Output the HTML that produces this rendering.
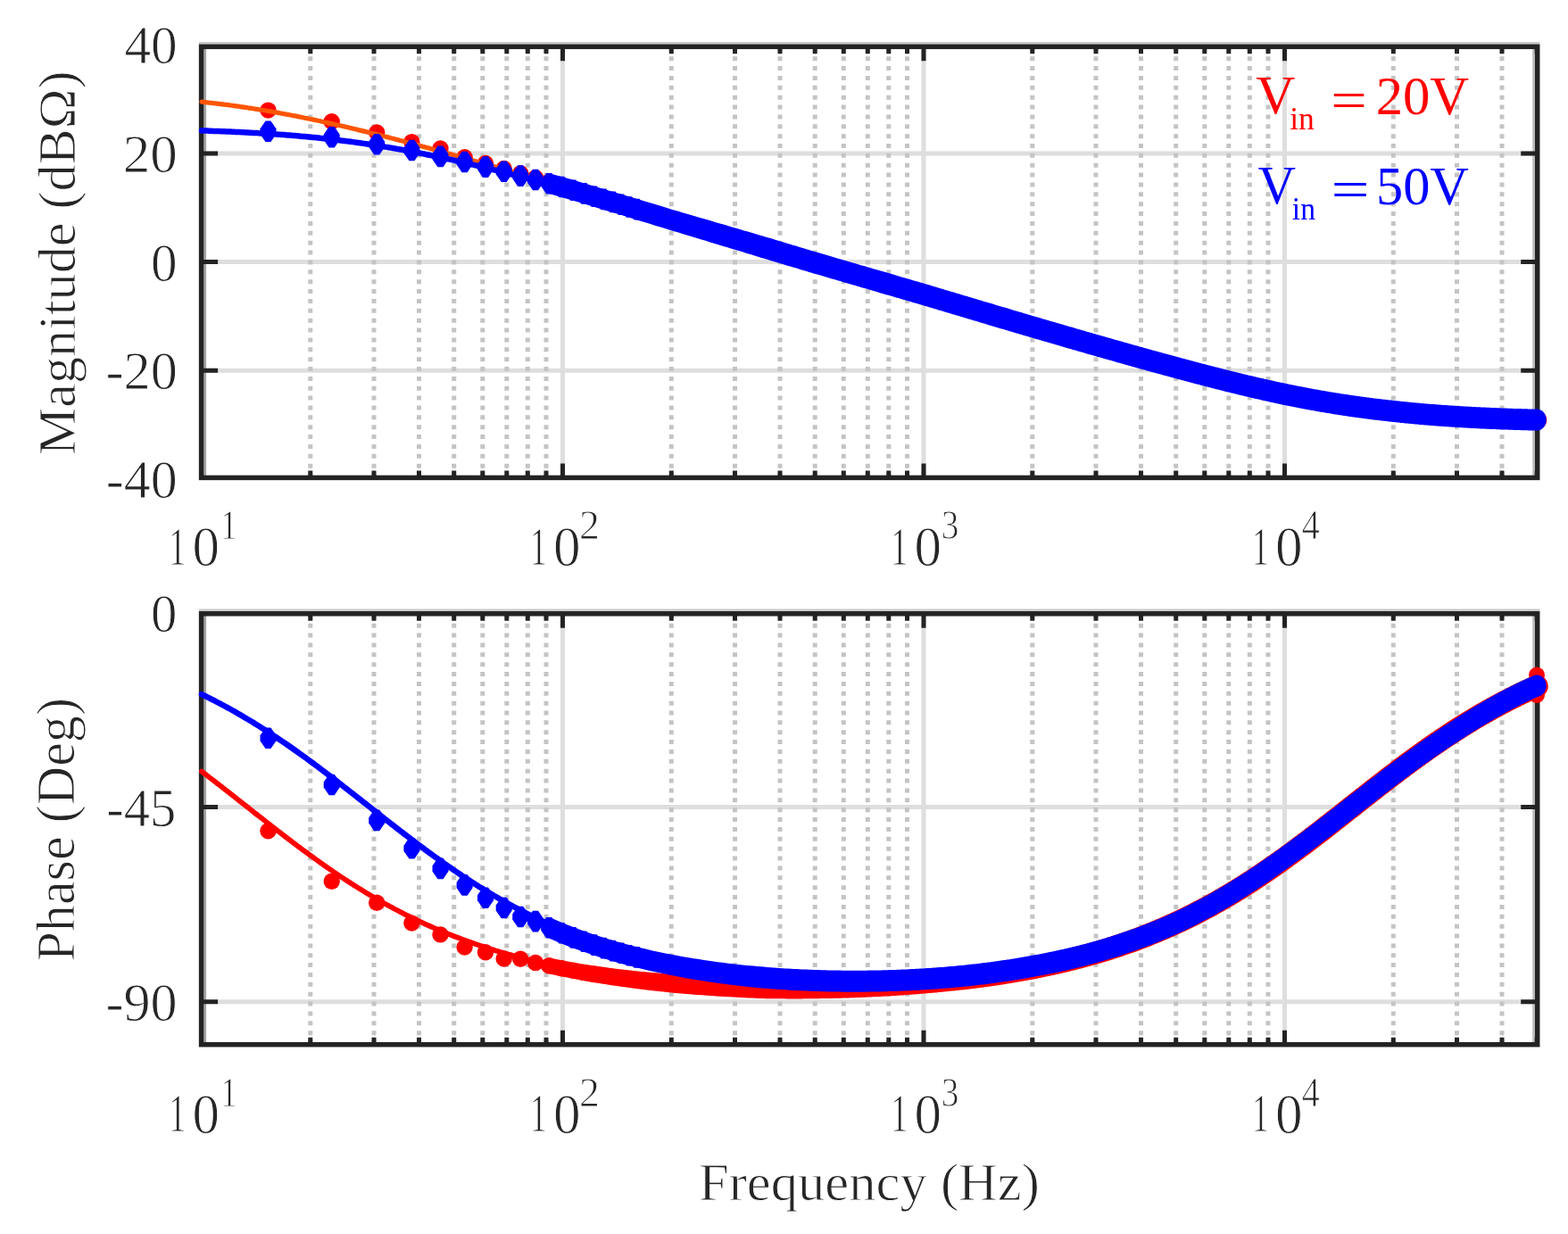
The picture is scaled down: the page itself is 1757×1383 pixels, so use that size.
<!DOCTYPE html><html><head><meta charset="utf-8"><title>Bode plot</title>
<style>html,body{margin:0;padding:0;background:#fff;overflow:hidden;}svg{display:block;}text{font-family:"Liberation Serif","Times New Roman",serif;fill:#262626;stroke:#fff;stroke-width:0.9px;}</style></head><body>
<svg width="1757" height="1383" viewBox="0 0 1757 1383">
<rect width="1757" height="1383" fill="#fff"/>
<line x1="630.5" y1="52.3" x2="630.5" y2="535.4" stroke="#dedede" stroke-width="5"/>
<line x1="1035" y1="52.3" x2="1035" y2="535.4" stroke="#dedede" stroke-width="5"/>
<line x1="1439.5" y1="52.3" x2="1439.5" y2="535.4" stroke="#dedede" stroke-width="5"/>
<line x1="225.6" y1="172" x2="1722.7" y2="172" stroke="#dedede" stroke-width="5"/>
<line x1="225.6" y1="293.6" x2="1722.7" y2="293.6" stroke="#dedede" stroke-width="5"/>
<line x1="225.6" y1="415.2" x2="1722.7" y2="415.2" stroke="#dedede" stroke-width="5"/>
<path d="M347.8 52.3V535.4M419 52.3V535.4M469.5 52.3V535.4M508.7 52.3V535.4M540.8 52.3V535.4M567.8 52.3V535.4M591.3 52.3V535.4M612 52.3V535.4M752.3 52.3V535.4M823.5 52.3V535.4M874 52.3V535.4M913.2 52.3V535.4M945.3 52.3V535.4M972.3 52.3V535.4M995.8 52.3V535.4M1016.5 52.3V535.4M1156.8 52.3V535.4M1228 52.3V535.4M1278.5 52.3V535.4M1317.7 52.3V535.4M1349.8 52.3V535.4M1376.8 52.3V535.4M1400.3 52.3V535.4M1421 52.3V535.4M1561.3 52.3V535.4M1632.5 52.3V535.4M1683 52.3V535.4M1722.2 52.3V535.4" stroke="#c4c4c4" stroke-width="5" stroke-dasharray="5 5.87" fill="none"/>
<rect x="222.8" y="47" width="1502.6" height="2.6" fill="#c9c9c9"/>
<rect x="228.3" y="52.3" width="2.8" height="483.1" fill="#a3a3a3"/>
<rect x="1717.2" y="52.3" width="2.8" height="483.1" fill="#bdbdbd"/>
<path d="M347.8 535.4v-8M347.8 52.3v8M419 535.4v-8M419 52.3v8M469.5 535.4v-8M469.5 52.3v8M508.7 535.4v-8M508.7 52.3v8M540.8 535.4v-8M540.8 52.3v8M567.8 535.4v-8M567.8 52.3v8M591.3 535.4v-8M591.3 52.3v8M612 535.4v-8M612 52.3v8M630.5 535.4v-16M630.5 52.3v16M752.3 535.4v-8M752.3 52.3v8M823.5 535.4v-8M823.5 52.3v8M874 535.4v-8M874 52.3v8M913.2 535.4v-8M913.2 52.3v8M945.3 535.4v-8M945.3 52.3v8M972.3 535.4v-8M972.3 52.3v8M995.8 535.4v-8M995.8 52.3v8M1016.5 535.4v-8M1016.5 52.3v8M1035 535.4v-16M1035 52.3v16M1156.8 535.4v-8M1156.8 52.3v8M1228 535.4v-8M1228 52.3v8M1278.5 535.4v-8M1278.5 52.3v8M1317.7 535.4v-8M1317.7 52.3v8M1349.8 535.4v-8M1349.8 52.3v8M1376.8 535.4v-8M1376.8 52.3v8M1400.3 535.4v-8M1400.3 52.3v8M1421 535.4v-8M1421 52.3v8M1439.5 535.4v-16M1439.5 52.3v16M1561.3 535.4v-8M1561.3 52.3v8M1632.5 535.4v-8M1632.5 52.3v8M1683 535.4v-8M1683 52.3v8M1722.2 535.4v-8M1722.2 52.3v8M225.6 172h18.5M1722.7 172h-18.5M225.6 293.6h18.5M1722.7 293.6h-18.5M225.6 415.2h18.5M1722.7 415.2h-18.5" stroke="#232323" stroke-width="5" fill="none"/>
<rect x="225.6" y="52.3" width="1497.1" height="483.1" fill="none" stroke="#232323" stroke-width="5.5"/>
<line x1="630.5" y1="687.8" x2="630.5" y2="1170.7" stroke="#dedede" stroke-width="5"/>
<line x1="1035" y1="687.8" x2="1035" y2="1170.7" stroke="#dedede" stroke-width="5"/>
<line x1="1439.5" y1="687.8" x2="1439.5" y2="1170.7" stroke="#dedede" stroke-width="5"/>
<line x1="225.6" y1="904.6" x2="1722.7" y2="904.6" stroke="#dedede" stroke-width="5"/>
<line x1="225.6" y1="1122.7" x2="1722.7" y2="1122.7" stroke="#dedede" stroke-width="5"/>
<path d="M347.8 687.8V1170.7M419 687.8V1170.7M469.5 687.8V1170.7M508.7 687.8V1170.7M540.8 687.8V1170.7M567.8 687.8V1170.7M591.3 687.8V1170.7M612 687.8V1170.7M752.3 687.8V1170.7M823.5 687.8V1170.7M874 687.8V1170.7M913.2 687.8V1170.7M945.3 687.8V1170.7M972.3 687.8V1170.7M995.8 687.8V1170.7M1016.5 687.8V1170.7M1156.8 687.8V1170.7M1228 687.8V1170.7M1278.5 687.8V1170.7M1317.7 687.8V1170.7M1349.8 687.8V1170.7M1376.8 687.8V1170.7M1400.3 687.8V1170.7M1421 687.8V1170.7M1561.3 687.8V1170.7M1632.5 687.8V1170.7M1683 687.8V1170.7M1722.2 687.8V1170.7" stroke="#c4c4c4" stroke-width="5" stroke-dasharray="5 5.87" fill="none"/>
<rect x="222.8" y="682.5" width="1502.6" height="2.6" fill="#c9c9c9"/>
<rect x="228.3" y="687.8" width="2.8" height="482.9" fill="#a3a3a3"/>
<rect x="1717.2" y="687.8" width="2.8" height="482.9" fill="#bdbdbd"/>
<path d="M347.8 1170.7v-8M347.8 687.8v8M419 1170.7v-8M419 687.8v8M469.5 1170.7v-8M469.5 687.8v8M508.7 1170.7v-8M508.7 687.8v8M540.8 1170.7v-8M540.8 687.8v8M567.8 1170.7v-8M567.8 687.8v8M591.3 1170.7v-8M591.3 687.8v8M612 1170.7v-8M612 687.8v8M630.5 1170.7v-16M630.5 687.8v16M752.3 1170.7v-8M752.3 687.8v8M823.5 1170.7v-8M823.5 687.8v8M874 1170.7v-8M874 687.8v8M913.2 1170.7v-8M913.2 687.8v8M945.3 1170.7v-8M945.3 687.8v8M972.3 1170.7v-8M972.3 687.8v8M995.8 1170.7v-8M995.8 687.8v8M1016.5 1170.7v-8M1016.5 687.8v8M1035 1170.7v-16M1035 687.8v16M1156.8 1170.7v-8M1156.8 687.8v8M1228 1170.7v-8M1228 687.8v8M1278.5 1170.7v-8M1278.5 687.8v8M1317.7 1170.7v-8M1317.7 687.8v8M1349.8 1170.7v-8M1349.8 687.8v8M1376.8 1170.7v-8M1376.8 687.8v8M1400.3 1170.7v-8M1400.3 687.8v8M1421 1170.7v-8M1421 687.8v8M1439.5 1170.7v-16M1439.5 687.8v16M1561.3 1170.7v-8M1561.3 687.8v8M1632.5 1170.7v-8M1632.5 687.8v8M1683 1170.7v-8M1683 687.8v8M1722.2 1170.7v-8M1722.2 687.8v8M225.6 904.6h18.5M1722.7 904.6h-18.5M225.6 1122.7h18.5M1722.7 1122.7h-18.5" stroke="#232323" stroke-width="5" fill="none"/>
<rect x="225.6" y="687.8" width="1497.1" height="482.9" fill="none" stroke="#232323" stroke-width="5.5"/>
<g fill="#ff0000">
<circle cx="300.5" cy="123.6" r="9.2"/>
<circle cx="371.7" cy="136.3" r="9.2"/>
<circle cx="422.2" cy="148.5" r="9.2"/>
<circle cx="461.4" cy="159.1" r="9.2"/>
<circle cx="493.5" cy="166.4" r="9.2"/>
<circle cx="520.6" cy="176.3" r="9.2"/>
<circle cx="544" cy="183" r="9.2"/>
<circle cx="564.7" cy="189" r="9.2"/>
<circle cx="583.2" cy="194.3" r="9.2"/>
<circle cx="600" cy="199.2" r="9.2"/>
<circle cx="615.2" cy="203.7" r="9.2"/>
<circle cx="629.3" cy="207.9" r="9.2"/>
<circle cx="642.3" cy="211.9" r="9.2"/>
<circle cx="654.4" cy="215.6" r="9.2"/>
<circle cx="665.8" cy="219.1" r="9.2"/>
<circle cx="676.4" cy="222.4" r="9.2"/>
<circle cx="686.5" cy="225.5" r="9.2"/>
<circle cx="696" cy="228.5" r="9.2"/>
<circle cx="705" cy="231.3" r="9.2"/>
<circle cx="713.5" cy="234" r="9.2"/>
</g>
<polygon points="617.7,195.3 631.9,199.4 644.9,203.3 657.1,207 668.5,210.5 679.1,213.7 689.2,216.8 698.7,219.7 707.7,222.4 716.3,225 724.5,227.5 732.4,229.9 739.8,232.1 747,234.3 753.9,236.4 760.5,238.3 766.9,240.2 773.1,242 779.1,243.7 784.8,245.4 790.4,247 795.9,248.6 801.1,250.1 806.2,251.6 811.2,253 816,254.4 820.7,255.7 825.3,257 829.8,258.3 834.1,259.6 838.4,260.8 842.5,262 846.6,263.1 850.6,264.2 854.5,265.4 858.2,266.4 861.9,267.5 865.6,268.6 869.1,269.7 872.6,270.8 876,271.8 879.4,272.8 882.6,273.8 885.9,274.7 889,275.7 892.1,276.6 895.2,277.6 898.2,278.5 901.1,279.4 904.1,280.2 906.9,281.1 909.7,281.9 912.5,282.8 915.2,283.6 917.8,284.4 920.4,285.1 923,285.9 925.6,286.6 928.1,287.4 930.6,288.1 933.1,288.8 935.5,289.5 937.9,290.2 940.3,290.9 942.6,291.6 944.9,292.3 947.1,292.9 949.4,293.6 951.6,294.2 953.8,294.9 955.9,295.5 958.1,296.1 960.2,296.7 962.2,297.3 964.3,297.9 966.3,298.5 968.3,299.1 970.3,299.7 972.3,300.3 974.2,300.9 976.1,301.4 978,302 979.9,302.5 981.8,303.1 983.6,303.6 985.4,304.1 987.2,304.7 989,305.2 990.8,305.7 992.5,306.2 994.3,306.7 996,307.2 997.7,307.7 999.4,308.2 1001,308.7 1002.7,309.2 1004.3,309.6 1005.9,310.1 1007.5,310.6 1009.1,311 1010.7,311.5 1012.3,312 1013.8,312.4 1015.3,312.9 1016.9,313.3 1018.4,313.7 1019.9,314.2 1021.4,314.6 1022.8,315 1024.3,315.5 1025.7,315.9 1027.2,316.3 1028.6,316.7 1030,317.1 1031.4,317.5 1032.8,317.9 1034.2,318.3 1035.5,318.7 1036.9,319.1 1038.3,319.5 1039.6,320 1041,320.4 1042.3,320.7 1043.6,321.1 1044.9,321.5 1046.2,321.9 1047.4,322.3 1048.7,322.7 1050,323 1051.2,323.4 1052.5,323.8 1053.7,324.2 1054.9,324.5 1056.1,324.9 1057.3,325.3 1059.7,326 1062.1,326.7 1064.4,327.4 1066.7,328.1 1069,328.7 1071.2,329.4 1073.4,330.1 1075.6,330.7 1077.8,331.4 1079.9,332 1082,332.6 1084.1,333.2 1086.1,333.9 1088.2,334.5 1090.2,335.1 1092.1,335.6 1094.1,336.2 1096.1,336.8 1098,337.4 1099.9,337.9 1101.7,338.5 1103.6,339.1 1105.4,339.6 1107.3,340.2 1109.1,340.7 1110.9,341.2 1112.6,341.7 1114.4,342.3 1116.1,342.8 1117.8,343.3 1119.5,343.8 1121.2,344.3 1122.8,344.8 1124.5,345.3 1126.1,345.8 1127.7,346.2 1129.4,346.7 1130.9,347.2 1132.5,347.7 1134.1,348.1 1135.6,348.6 1137.2,349 1138.7,349.5 1140.2,349.9 1141.7,350.4 1143.2,350.8 1144.6,351.3 1146.1,351.7 1147.5,352.1 1149,352.5 1150.4,353 1151.8,353.4 1153.2,353.8 1154.6,354.2 1156,354.6 1157.3,355 1158.7,355.4 1160,355.8 1161.3,356.2 1162.7,356.6 1164,357 1165.3,357.3 1166.6,357.7 1167.9,358.1 1169.1,358.5 1170.4,358.8 1171.7,359.2 1172.9,359.6 1174.2,359.9 1175.4,360.3 1176.6,360.7 1177.8,361 1179,361.4 1180.8,361.9 1182.6,362.4 1184.4,362.9 1186.1,363.4 1187.8,363.9 1189.5,364.4 1191.2,364.9 1192.9,365.4 1194.6,365.9 1196.2,366.3 1197.8,366.8 1199.4,367.3 1201,367.8 1202.6,368.2 1204.2,368.7 1205.7,369.1 1207.3,369.6 1208.8,370 1210.3,370.4 1211.8,370.9 1213.3,371.3 1214.8,371.7 1216.3,372.1 1217.7,372.6 1219.2,373 1220.6,373.4 1222,373.8 1223.4,374.2 1224.8,374.6 1226.2,375 1227.6,375.4 1228.9,375.8 1230.3,376.2 1231.6,376.6 1232.9,376.9 1234.3,377.3 1235.6,377.7 1236.9,378.1 1238.2,378.4 1239.5,378.8 1240.7,379.2 1242,379.5 1243.2,379.9 1244.5,380.2 1245.7,380.6 1247,380.9 1248.2,381.3 1249.4,381.6 1250.6,382 1252.2,382.4 1253.8,382.9 1255.3,383.3 1256.9,383.7 1258.4,384.2 1259.9,384.6 1261.4,385 1262.9,385.5 1264.4,385.9 1265.9,386.3 1267.3,386.7 1268.8,387.1 1270.2,387.5 1271.6,387.9 1273.1,388.3 1274.5,388.7 1275.8,389.1 1277.2,389.5 1278.6,389.8 1279.9,390.2 1281.3,390.6 1282.6,391 1284,391.3 1285.3,391.7 1286.6,392.1 1287.9,392.4 1289.2,392.8 1290.4,393.1 1291.7,393.5 1293,393.8 1294.2,394.2 1295.5,394.5 1296.7,394.9 1297.9,395.2 1299.1,395.5 1300.3,395.9 1301.5,396.2 1303,396.6 1304.5,397 1306,397.4 1307.4,397.8 1308.8,398.2 1310.3,398.6 1311.7,399 1313.1,399.3 1314.5,399.7 1315.9,400.1 1317.2,400.5 1318.6,400.8 1319.9,401.2 1321.3,401.6 1322.6,401.9 1323.9,402.3 1325.3,402.6 1326.6,403 1327.8,403.3 1329.1,403.7 1330.4,404 1331.6,404.3 1332.9,404.7 1334.1,405 1335.4,405.3 1336.6,405.7 1337.8,406 1339,406.3 1340.2,406.6 1341.7,407 1343.1,407.4 1344.5,407.8 1345.9,408.1 1347.3,408.5 1348.6,408.9 1350,409.2 1351.3,409.6 1352.7,409.9 1354,410.3 1355.3,410.6 1356.6,410.9 1357.9,411.3 1359.2,411.6 1360.5,411.9 1361.8,412.3 1363.1,412.6 1364.3,412.9 1365.6,413.2 1366.8,413.5 1368,413.9 1369.2,414.2 1370.4,414.5 1371.6,414.8 1373,415.1 1374.4,415.5 1375.8,415.8 1377.1,416.2 1378.5,416.5 1379.8,416.8 1381.2,417.2 1382.5,417.5 1383.8,417.8 1385.1,418.1 1386.4,418.4 1387.7,418.8 1388.9,419.1 1390.2,419.4 1391.4,419.7 1392.7,420 1393.9,420.3 1395.1,420.6 1396.4,420.9 1397.6,421.2 1398.8,421.4 1400.1,421.8 1401.5,422.1 1402.8,422.4 1404.1,422.7 1405.5,423 1406.8,423.3 1408.1,423.6 1409.4,423.9 1410.6,424.2 1411.9,424.5 1413.2,424.8 1414.4,425.1 1415.7,425.4 1416.9,425.7 1418.1,426 1419.3,426.2 1420.6,426.5 1421.8,426.8 1422.9,427 1424.3,427.3 1425.6,427.6 1426.9,427.9 1428.2,428.2 1429.5,428.5 1430.8,428.8 1432.1,429.1 1433.3,429.3 1434.6,429.6 1435.8,429.9 1437.1,430.1 1438.3,430.4 1439.5,430.7 1440.7,430.9 1441.9,431.2 1443.1,431.4 1444.4,431.7 1445.7,431.9 1447,432.2 1448.3,432.4 1449.5,432.7 1450.8,433 1452.1,433.2 1453.3,433.5 1454.6,433.7 1455.8,433.9 1457,434.2 1458.2,434.4 1459.4,434.6 1460.6,434.9 1461.9,435.1 1463.2,435.4 1464.5,435.6 1465.8,435.8 1467.1,436.1 1468.3,436.3 1469.6,436.6 1470.8,436.8 1472.1,437 1473.3,437.2 1474.5,437.4 1475.7,437.7 1476.9,437.9 1478.1,438.1 1479.4,438.3 1480.7,438.5 1482,438.8 1483.2,439 1484.5,439.2 1485.7,439.4 1487,439.6 1488.2,439.8 1489.4,440 1490.6,440.2 1491.8,440.4 1493,440.6 1494.3,440.8 1495.6,441 1496.8,441.3 1498.1,441.5 1499.3,441.7 1500.6,441.8 1501.8,442 1503,442.2 1504.2,442.4 1505.4,442.6 1506.6,442.8 1507.9,443 1509.2,443.2 1510.4,443.4 1511.7,443.6 1512.9,443.7 1514.2,443.9 1515.4,444.1 1516.6,444.3 1517.8,444.4 1519,444.6 1520.2,444.8 1521.5,445 1522.7,445.1 1524,445.3 1525.2,445.5 1526.4,445.6 1527.7,445.8 1528.9,446 1530.1,446.1 1531.3,446.3 1532.5,446.5 1533.8,446.6 1535.1,446.8 1536.3,446.9 1537.5,447.1 1538.7,447.3 1540,447.4 1541.2,447.6 1542.4,447.7 1543.6,447.8 1544.8,448 1546.1,448.1 1547.3,448.3 1548.5,448.4 1549.7,448.6 1551,448.7 1552.2,448.9 1553.4,449 1554.6,449.1 1555.9,449.3 1557.1,449.4 1558.3,449.5 1559.6,449.7 1560.8,449.8 1562,449.9 1563.2,450.1 1564.5,450.2 1565.7,450.3 1567,450.5 1568.2,450.6 1569.4,450.7 1570.6,450.9 1571.8,451 1573,451.1 1574.3,451.2 1575.5,451.4 1576.7,451.5 1578,451.6 1579.2,451.7 1580.4,451.8 1581.6,452 1582.8,452.1 1584.1,452.2 1585.3,452.3 1586.5,452.4 1587.7,452.5 1588.9,452.6 1590.1,452.7 1591.4,452.9 1592.6,453 1593.8,453.1 1595.1,453.2 1596.3,453.3 1597.5,453.4 1598.7,453.5 1599.9,453.6 1601.1,453.7 1602.4,453.8 1603.6,453.9 1604.8,454 1606,454.1 1607.2,454.2 1608.4,454.3 1609.7,454.4 1610.9,454.4 1612.1,454.5 1613.3,454.6 1614.5,454.7 1615.8,454.8 1617,454.9 1618.2,455 1619.4,455.1 1620.6,455.1 1621.8,455.2 1623.1,455.3 1624.3,455.4 1625.5,455.5 1626.7,455.6 1627.9,455.6 1629.1,455.7 1630.4,455.8 1631.6,455.9 1632.8,455.9 1634,456 1635.2,456.1 1636.4,456.2 1637.7,456.2 1638.9,456.3 1640.1,456.4 1641.3,456.4 1642.5,456.5 1643.7,456.6 1644.9,456.7 1646.1,456.7 1647.3,456.8 1648.5,456.9 1649.8,456.9 1651,457 1652.2,457 1653.4,457.1 1654.6,457.2 1655.8,457.2 1657.1,457.3 1658.3,457.3 1659.5,457.4 1660.7,457.5 1661.9,457.5 1663.1,457.6 1664.3,457.6 1665.5,457.7 1666.8,457.7 1668,457.8 1669.2,457.8 1670.4,457.9 1671.6,458 1672.8,458 1674,458.1 1675.3,458.1 1676.5,458.2 1677.7,458.2 1678.9,458.3 1680.1,458.3 1681.3,458.3 1682.5,458.4 1683.7,458.4 1684.9,458.5 1686.1,458.5 1687.4,458.6 1688.6,458.6 1689.8,458.7 1691,458.7 1692.2,458.7 1693.4,458.8 1694.6,458.8 1695.8,458.9 1697,458.9 1698.2,458.9 1699.5,459 1700.7,459 1701.9,459.1 1703.1,459.1 1704.3,459.1 1705.5,459.2 1706.7,459.2 1707.9,459.2 1709.1,459.3 1710.3,459.3 1711.5,459.4 1712.8,459.4 1714,459.4 1715.2,459.5 1716.4,459.5 1717.6,459.5 1718.8,459.6 1720,459.6 1721.2,459.6 1722.5,459.7 1722.5,459.7 1721.9,481.6 1721.9,481.6 1720.7,481.6 1719.4,481.6 1718.2,481.6 1717,481.5 1715.8,481.5 1714.6,481.5 1713.4,481.4 1712.1,481.4 1710.9,481.3 1709.7,481.3 1708.5,481.3 1707.3,481.2 1706.1,481.2 1704.8,481.2 1703.6,481.1 1702.4,481.1 1701.2,481.1 1700,481 1698.7,481 1697.5,480.9 1696.3,480.9 1695.1,480.9 1693.9,480.8 1692.6,480.8 1691.4,480.7 1690.2,480.7 1689,480.6 1687.8,480.6 1686.6,480.6 1685.3,480.5 1684.1,480.5 1682.9,480.4 1681.7,480.4 1680.5,480.3 1679.2,480.3 1678,480.2 1676.8,480.2 1675.6,480.1 1674.4,480.1 1673.1,480 1671.9,480 1670.7,479.9 1669.4,479.9 1668.2,479.8 1667,479.8 1665.8,479.7 1664.5,479.7 1663.3,479.6 1662.1,479.6 1660.9,479.5 1659.7,479.4 1658.4,479.4 1657.2,479.3 1656,479.3 1654.8,479.2 1653.5,479.1 1652.3,479.1 1651,479 1649.8,478.9 1648.6,478.9 1647.4,478.8 1646.1,478.8 1644.9,478.7 1643.7,478.6 1642.5,478.6 1641.3,478.5 1640,478.4 1638.8,478.3 1637.6,478.3 1636.4,478.2 1635.1,478.1 1633.9,478.1 1632.6,478 1631.4,477.9 1630.2,477.8 1629,477.7 1627.7,477.7 1626.5,477.6 1625.3,477.5 1624.1,477.4 1622.8,477.4 1621.6,477.3 1620.3,477.2 1619.1,477.1 1617.9,477 1616.7,476.9 1615.4,476.8 1614.2,476.8 1612.9,476.7 1611.7,476.6 1610.5,476.5 1609.2,476.4 1608,476.3 1606.8,476.2 1605.5,476.1 1604.3,476 1603,475.9 1601.8,475.8 1600.6,475.7 1599.3,475.6 1598.1,475.5 1596.8,475.4 1595.6,475.3 1594.4,475.2 1593.2,475.1 1591.9,475 1590.7,474.9 1589.4,474.8 1588.2,474.7 1586.9,474.5 1585.7,474.4 1584.5,474.3 1583.2,474.2 1582,474.1 1580.7,474 1579.5,473.9 1578.3,473.7 1577,473.6 1575.8,473.5 1574.6,473.4 1573.3,473.2 1572,473.1 1570.8,473 1569.6,472.9 1568.3,472.7 1567.1,472.6 1565.9,472.5 1564.6,472.3 1563.4,472.2 1562.1,472.1 1560.8,471.9 1559.6,471.8 1558.4,471.7 1557.2,471.5 1555.9,471.4 1554.7,471.3 1553.4,471.1 1552.2,471 1550.9,470.9 1549.7,470.7 1548.4,470.6 1547.2,470.4 1546,470.3 1544.7,470.1 1543.5,470 1542.2,469.8 1540.9,469.7 1539.7,469.5 1538.5,469.4 1537.3,469.2 1536,469.1 1534.8,468.9 1533.5,468.8 1532.3,468.6 1531,468.4 1529.7,468.3 1528.4,468.1 1527.2,467.9 1526,467.8 1524.7,467.6 1523.5,467.4 1522.2,467.3 1521,467.1 1519.7,466.9 1518.4,466.7 1517.1,466.6 1515.9,466.4 1514.7,466.2 1513.5,466 1512.2,465.9 1511,465.7 1509.7,465.5 1508.5,465.3 1507.2,465.1 1505.9,464.9 1504.6,464.7 1503.3,464.5 1502.1,464.4 1500.9,464.2 1499.6,464 1498.4,463.8 1497.1,463.6 1495.9,463.4 1494.6,463.2 1493.3,463 1492,462.8 1490.7,462.6 1489.4,462.3 1488.2,462.1 1487,461.9 1485.8,461.7 1484.5,461.5 1483.3,461.3 1482,461.1 1480.8,460.9 1479.5,460.7 1478.2,460.4 1476.9,460.2 1475.6,460 1474.3,459.8 1473.1,459.5 1471.9,459.3 1470.6,459.1 1469.4,458.9 1468.1,458.6 1466.9,458.4 1465.6,458.2 1464.3,458 1463.1,457.7 1461.8,457.5 1460.5,457.2 1459.2,457 1457.8,456.7 1456.5,456.5 1455.3,456.2 1454.1,456 1452.8,455.8 1451.6,455.5 1450.3,455.3 1449.1,455 1447.8,454.8 1446.5,454.5 1445.2,454.3 1443.9,454 1442.6,453.8 1441.3,453.5 1440,453.2 1438.7,453 1437.4,452.7 1436.2,452.4 1434.9,452.2 1433.7,451.9 1432.4,451.6 1431.2,451.4 1429.9,451.1 1428.7,450.8 1427.4,450.5 1426.1,450.3 1424.8,450 1423.5,449.7 1422.2,449.4 1420.8,449.1 1419.5,448.8 1418.1,448.5 1416.9,448.2 1415.7,448 1414.5,447.7 1413.3,447.4 1412,447.1 1410.8,446.8 1409.5,446.6 1408.2,446.3 1407,446 1405.7,445.7 1404.4,445.4 1403.1,445.1 1401.8,444.8 1400.4,444.4 1399.1,444.1 1397.8,443.8 1396.4,443.5 1395,443.2 1393.7,442.8 1392.4,442.6 1391.2,442.3 1390,442 1388.8,441.7 1387.5,441.4 1386.2,441.1 1385,440.8 1383.7,440.4 1382.4,440.1 1381.1,439.8 1379.8,439.5 1378.5,439.2 1377.2,438.8 1375.9,438.5 1374.5,438.2 1373.2,437.8 1371.8,437.5 1370.4,437.2 1369.1,436.8 1367.7,436.5 1366.3,436.1 1365,435.8 1363.8,435.5 1362.6,435.2 1361.4,434.9 1360.1,434.5 1358.9,434.2 1357.6,433.9 1356.3,433.6 1355,433.2 1353.7,432.9 1352.4,432.6 1351.1,432.2 1349.8,431.9 1348.5,431.5 1347.1,431.2 1345.8,430.8 1344.4,430.5 1343,430.1 1341.7,429.8 1340.3,429.4 1338.9,429 1337.5,428.7 1336,428.3 1334.6,427.9 1333.4,427.6 1332.2,427.3 1330.9,426.9 1329.7,426.6 1328.5,426.3 1327.2,425.9 1325.9,425.6 1324.7,425.3 1323.4,424.9 1322.1,424.6 1320.8,424.2 1319.5,423.9 1318.2,423.5 1316.9,423.1 1315.5,422.8 1314.2,422.4 1312.9,422.1 1311.5,421.7 1310.1,421.3 1308.7,420.9 1307.3,420.6 1305.9,420.2 1304.5,419.8 1303.1,419.4 1301.6,419 1300.2,418.6 1298.7,418.2 1297.2,417.8 1295.7,417.4 1294.5,417.1 1293.3,416.7 1292.1,416.4 1290.9,416.1 1289.6,415.7 1288.4,415.4 1287.1,415 1285.8,414.7 1284.6,414.3 1283.3,414 1282,413.6 1280.7,413.3 1279.4,412.9 1278.1,412.5 1276.7,412.2 1275.4,411.8 1274,411.4 1272.7,411 1271.3,410.7 1269.9,410.3 1268.5,409.9 1267.1,409.5 1265.7,409.1 1264.3,408.7 1262.8,408.3 1261.4,407.9 1259.9,407.5 1258.5,407.1 1257,406.6 1255.5,406.2 1254,405.8 1252.4,405.4 1250.9,404.9 1249.3,404.5 1247.8,404 1246.2,403.6 1244.6,403.1 1243.4,402.8 1242.2,402.4 1240.9,402.1 1239.7,401.7 1238.5,401.4 1237.2,401 1236,400.7 1234.7,400.3 1233.4,400 1232.1,399.6 1230.8,399.2 1229.5,398.8 1228.2,398.5 1226.9,398.1 1225.6,397.7 1224.2,397.3 1222.9,396.9 1221.5,396.5 1220.1,396.1 1218.7,395.7 1217.3,395.3 1215.9,394.9 1214.5,394.5 1213.1,394.1 1211.6,393.7 1210.2,393.3 1208.7,392.9 1207.2,392.4 1205.7,392 1204.2,391.6 1202.7,391.1 1201.2,390.7 1199.6,390.2 1198.1,389.8 1196.5,389.3 1194.9,388.9 1193.3,388.4 1191.7,388 1190.1,387.5 1188.4,387 1186.8,386.5 1185.1,386 1183.4,385.5 1181.7,385 1180,384.5 1178.2,384 1176.5,383.5 1174.7,383 1172.9,382.5 1171.7,382.1 1170.5,381.8 1169.2,381.4 1168,381.1 1166.8,380.7 1165.5,380.3 1164.2,380 1163,379.6 1161.7,379.2 1160.4,378.8 1159.1,378.5 1157.8,378.1 1156.5,377.7 1155.2,377.3 1153.8,376.9 1152.5,376.5 1151.1,376.1 1149.7,375.7 1148.3,375.3 1147,374.9 1145.6,374.5 1144.1,374.1 1142.7,373.6 1141.3,373.2 1139.8,372.8 1138.4,372.3 1136.9,371.9 1135.4,371.5 1133.9,371 1132.4,370.6 1130.9,370.1 1129.4,369.7 1127.8,369.2 1126.3,368.8 1124.7,368.3 1123.1,367.8 1121.5,367.3 1119.9,366.9 1118.2,366.4 1116.6,365.9 1114.9,365.4 1113.2,364.9 1111.5,364.4 1109.8,363.9 1108.1,363.4 1106.3,362.8 1104.6,362.3 1102.8,361.8 1101,361.2 1099.2,360.7 1097.3,360.1 1095.5,359.6 1093.6,359 1091.7,358.5 1089.8,357.9 1087.8,357.3 1085.9,356.7 1083.9,356.1 1081.9,355.5 1079.8,354.9 1077.8,354.3 1075.7,353.7 1073.6,353.1 1071.5,352.4 1069.3,351.8 1067.1,351.1 1064.9,350.5 1062.7,349.8 1060.4,349.1 1058.1,348.4 1055.8,347.7 1053.4,347 1051,346.3 1049.8,346 1048.6,345.6 1047.4,345.2 1046.2,344.9 1044.9,344.5 1043.7,344.1 1042.4,343.7 1041.1,343.4 1039.9,343 1038.6,342.6 1037.3,342.2 1036,341.8 1034.7,341.4 1033.3,341 1032,340.6 1030.7,340.3 1029.4,339.9 1028,339.5 1026.6,339.1 1025.2,338.7 1023.8,338.3 1022.4,337.8 1021,337.4 1019.6,337 1018.1,336.6 1016.7,336.2 1015.2,335.7 1013.7,335.3 1012.2,334.9 1010.7,334.4 1009.2,334 1007.6,333.5 1006.1,333.1 1004.5,332.6 1003,332.2 1001.4,331.7 999.8,331.2 998.1,330.8 996.5,330.3 994.9,329.8 993.2,329.3 991.5,328.8 989.8,328.3 988.1,327.8 986.4,327.3 984.6,326.8 982.9,326.3 981.1,325.8 979.3,325.2 977.5,324.7 975.6,324.2 973.8,323.6 971.9,323.1 970,322.5 968.1,322 966.1,321.4 964.2,320.8 962.2,320.2 960.2,319.7 958.1,319.1 956.1,318.5 954,317.9 951.9,317.2 949.8,316.6 947.6,316 945.4,315.4 943.2,314.7 941,314.1 938.7,313.4 936.4,312.7 934.1,312 931.7,311.4 929.3,310.7 926.9,309.9 924.5,309.2 922,308.5 919.4,307.8 916.9,307 914.3,306.2 911.6,305.5 908.9,304.7 906.1,303.8 903.4,303 900.6,302.2 897.7,301.3 894.8,300.4 891.8,299.5 888.8,298.6 885.8,297.7 882.7,296.8 879.5,295.8 876.3,294.8 873,293.9 869.7,292.8 866.3,291.8 862.8,290.8 859.2,289.7 855.6,288.6 851.9,287.5 848.1,286.3 844.3,285.1 840.4,283.8 836.3,282.5 832.2,281.2 828,279.9 823.7,278.5 819.3,277.1 814.7,275.7 810.1,274.2 805.3,272.7 800.3,271.2 795.3,269.6 790,267.9 784.6,266.3 779.1,264.5 773.3,262.7 767.4,260.9 761.3,259 754.9,257 748.2,254.9 741.3,252.7 734.2,250.4 726.7,248 718.9,245.5 710.8,242.9 702.2,240.2 693.2,237.3 683.7,234.3 673.7,231.1 663.1,227.8 651.8,224.2 639.7,220.4 626.7,216.4 612.8,212.2" fill="#ff0000"/>
<ellipse cx="1722.2" cy="470.7" rx="11" ry="11" fill="#ff0000"/>
<polyline points="226,114.1 228.1,114.4 230.3,114.6 232.4,114.8 234.6,115.1 236.7,115.3 238.8,115.6 241,115.8 243.1,116.1 245.3,116.4 247.4,116.6 249.5,116.9 251.7,117.2 253.8,117.4 256,117.7 258.1,118 260.2,118.3 262.4,118.6 264.5,118.9 266.7,119.2 268.8,119.5 271,119.8 273.1,120.1 275.2,120.4 277.4,120.8 279.5,121.1 281.7,121.4 283.8,121.7 285.9,122.1 288.1,122.4 290.2,122.8 292.4,123.1 294.5,123.5 296.6,123.8 298.8,124.2 300.9,124.5 303.1,124.9 305.2,125.3 307.3,125.7 309.5,126 311.6,126.4 313.8,126.8 315.9,127.2 318,127.6 320.2,128 322.3,128.4 324.5,128.8 326.6,129.2 328.7,129.6 330.9,130 333,130.4 335.2,130.9 337.3,131.3 339.4,131.7 341.6,132.2 343.7,132.6 345.9,133 348,133.5 350.2,133.9 352.3,134.4 354.4,134.8 356.6,135.3 358.7,135.7 360.9,136.2 363,136.7 365.1,137.1 367.3,137.6 369.4,138.1 371.6,138.6 373.7,139 375.8,139.5 378,140 380.1,140.5 382.3,141 384.4,141.5 386.5,142 388.7,142.5 390.8,143 393,143.5 395.1,144 397.2,144.5 399.4,145 401.5,145.6 403.7,146.1 405.8,146.6 407.9,147.1 410.1,147.6 412.2,148.2 414.4,148.7 416.5,149.2 418.6,149.8 420.8,150.3 422.9,150.9 425.1,151.4 427.2,151.9 429.4,152.5 431.5,153 433.6,153.6 435.8,154.1 437.9,154.7 440.1,155.2 442.2,155.8 444.3,156.4 446.5,156.9 448.6,157.5 450.8,158 452.9,158.6 455,159.2 457.2,159.7 459.3,160.3 461.5,160.9 463.6,161.5 465.7,162 467.9,162.6 470,163.2 472.2,163.8 474.3,164.4 476.4,164.9 478.6,165.5 480.7,166.1 482.9,166.7 485,167.3 487.1,167.9 489.3,168.5 491.4,169.1 493.6,169.6 495.7,170.2 497.8,170.8 500,171.4 502.1,172 504.3,172.6 506.4,173.2 508.6,173.8 510.7,174.4 512.8,175 515,175.6 517.1,176.2 519.3,176.8 521.4,177.4 523.5,178.1 525.7,178.7 527.8,179.3 530,179.9 532.1,180.5 534.2,181.1 536.4,181.7 538.5,182.3 540.7,182.9 542.8,183.5 544.9,184.2 547.1,184.8 549.2,185.4 551.4,186 553.5,186.6 555.6,187.2 557.8,187.9 559.9,188.5 562.1,189.1 564.2,189.7 566.3,190.3 568.5,191 570.6,191.6 572.8,192.2 574.9,192.8 577,193.4 579.2,194.1 581.3,194.7 583.5,195.3 585.6,195.9 587.8,196.6 589.9,197.2 592,197.8 594.2,198.4 596.3,199.1 598.5,199.7 600.6,200.3 602.7,200.9 604.9,201.6 607,202.2 609.2,202.8 611.3,203.5 613.4,204.1 615.6,204.7 617.7,205.4 619.9,206 622,206.6 624.1,207.2 626.3,207.9 628.4,208.5 630.6,209.1 632.7,209.8 634.8,210.4 637,211 639.1,211.7 641.3,212.3 643.4,212.9 645.5,213.6 647.7,214.2 649.8,214.8 652,215.5 654.1,216.1 656.2,216.7 658.4,217.4 660.5,218 662.7,218.7 664.8,219.3 667,219.9 669.1,220.6 671.2,221.2 673.4,221.8 675.5,222.5 677.7,223.1 679.8,223.7 681.9,224.4 684.1,225 686.2,225.7 688.4,226.3 690.5,226.9 692.6,227.6 694.8,228.2 696.9,228.8 699.1,229.5 701.2,230.1 703.3,230.8 705.5,231.4 707.6,232 709.8,232.7 711.9,233.3 714,234 716.2,234.6 718.3,235.2 720.5,235.9 722.6,236.5 724.7,237.1 726.9,237.8 729,238.4 731.2,239.1 733.3,239.7 735.4,240.3 737.6,241 739.7,241.6 741.9,242.3 744,242.9 746.1,243.5 748.3,244.2 750.4,244.8 752.6,245.5 754.7,246.1 756.9,246.7 759,247.4 761.1,248 763.3,248.7 765.4,249.3 767.6,250 769.7,250.6 771.8,251.2 774,251.9 776.1,252.5 778.3,253.2 780.4,253.8 782.5,254.4 784.7,255.1 786.8,255.7 789,256.4 791.1,257 793.2,257.6 795.4,258.3 797.5,258.9 799.7,259.6 801.8,260.2 803.9,260.9 806.1,261.5 808.2,262.1 810.4,262.8 812.5,263.4 814.6,264.1 816.8,264.7 818.9,265.3 821.1,266 823.2,266.6 825.3,267.3 827.5,267.9 829.6,268.6 831.8,269.2 833.9,269.8 836.1,270.5 838.2,271.1 840.3,271.8 842.5,272.4 844.6,273.1 846.8,273.7 848.9,274.3 851,275 853.2,275.6 855.3,276.3 857.5,276.9 859.6,277.5 861.7,278.2 863.9,278.8 866,279.5 868.2,280.1 870.3,280.8 872.4,281.4 874.6,282 876.7,282.7 878.9,283.3 881,284 883.1,284.6 885.3,285.3 887.4,285.9 889.6,286.5 891.7,287.2 893.8,287.8 896,288.5 898.1,289.1 900.3,289.8 902.4,290.4 904.5,291 906.7,291.7 908.8,292.3 911,293 913.1,293.6 915.3,294.2 917.4,294.9 919.5,295.5 921.7,296.2 923.8,296.8 926,297.5 928.1,298.1 930.2,298.7 932.4,299.4 934.5,300 936.7,300.7 938.8,301.3 940.9,302 943.1,302.6 945.2,303.2 947.4,303.9 949.5,304.5 951.6,305.2 953.8,305.8 955.9,306.5 958.1,307.1 960.2,307.7 962.3,308.4 964.5,309 966.6,309.7 968.8,310.3 970.9,310.9 973,311.6 975.2,312.2 977.3,312.9 979.5,313.5 981.6,314.2 983.7,314.8 985.9,315.4 988,316.1 990.2,316.7 992.3,317.4 994.5,318 996.6,318.6 998.7,319.3 1000.9,319.9 1003,320.6 1005.2,321.2 1007.3,321.9 1009.4,322.5 1011.6,323.1 1013.7,323.8 1015.9,324.4 1018,325.1 1020.1,325.7 1022.3,326.3 1024.4,327 1026.6,327.6 1028.7,328.3 1030.8,328.9 1033,329.5 1035.1,330.2 1037.3,330.8 1039.4,331.5 1041.5,332.1 1043.7,332.7 1045.8,333.4 1048,334 1050.1,334.7 1052.2,335.3 1054.4,335.9 1056.5,336.6 1058.7,337.2 1060.8,337.9 1062.9,338.5 1065.1,339.1 1067.2,339.8 1069.4,340.4 1071.5,341.1 1073.7,341.7 1075.8,342.3 1077.9,343 1080.1,343.6 1082.2,344.3 1084.4,344.9 1086.5,345.5 1088.6,346.2 1090.8,346.8 1092.9,347.5 1095.1,348.1 1097.2,348.7 1099.3,349.4 1101.5,350 1103.6,350.6 1105.8,351.3 1107.9,351.9 1110,352.6 1112.2,353.2 1114.3,353.8 1116.5,354.5 1118.6,355.1 1120.7,355.7 1122.9,356.4 1125,357 1127.2,357.6 1129.3,358.3 1131.4,358.9 1133.6,359.6 1135.7,360.2 1137.9,360.8 1140,361.5 1142.1,362.1 1144.3,362.7 1146.4,363.4 1148.6,364 1150.7,364.6 1152.9,365.3 1155,365.9 1157.1,366.5 1159.3,367.2 1161.4,367.8 1163.6,368.4 1165.7,369.1 1167.8,369.7 1170,370.3 1172.1,370.9 1174.3,371.6 1176.4,372.2 1178.5,372.8 1180.7,373.5 1182.8,374.1 1185,374.7 1187.1,375.4 1189.2,376 1191.4,376.6 1193.5,377.2 1195.7,377.9 1197.8,378.5 1199.9,379.1 1202.1,379.7 1204.2,380.4 1206.4,381 1208.5,381.6 1210.6,382.2 1212.8,382.9 1214.9,383.5 1217.1,384.1 1219.2,384.7 1221.3,385.4 1223.5,386 1225.6,386.6 1227.8,387.2 1229.9,387.8 1232.1,388.5 1234.2,389.1 1236.3,389.7 1238.5,390.3 1240.6,390.9 1242.8,391.5 1244.9,392.2 1247,392.8 1249.2,393.4 1251.3,394 1253.5,394.6 1255.6,395.2 1257.7,395.8 1259.9,396.4 1262,397.1 1264.2,397.7 1266.3,398.3 1268.4,398.9 1270.6,399.5 1272.7,400.1 1274.9,400.7 1277,401.3 1279.1,401.9 1281.3,402.5 1283.4,403.1 1285.6,403.7 1287.7,404.3 1289.8,404.9 1292,405.5 1294.1,406.1 1296.3,406.7 1298.4,407.3 1300.5,407.9 1302.7,408.5 1304.8,409.1 1307,409.6 1309.1,410.2 1311.3,410.8 1313.4,411.4 1315.5,412 1317.7,412.6 1319.8,413.1 1322,413.7 1324.1,414.3 1326.2,414.9 1328.4,415.5 1330.5,416 1332.7,416.6 1334.8,417.2 1336.9,417.7 1339.1,418.3 1341.2,418.9 1343.4,419.4 1345.5,420 1347.6,420.6 1349.8,421.1 1351.9,421.7 1354.1,422.2 1356.2,422.8 1358.3,423.3 1360.5,423.9 1362.6,424.4 1364.8,425 1366.9,425.5 1369,426.1 1371.2,426.6 1373.3,427.1 1375.5,427.7 1377.6,428.2 1379.7,428.7 1381.9,429.3 1384,429.8 1386.2,430.3 1388.3,430.8 1390.5,431.4 1392.6,431.9 1394.7,432.4 1396.9,432.9 1399,433.4 1401.2,433.9 1403.3,434.4 1405.4,434.9 1407.6,435.4 1409.7,435.9 1411.9,436.4 1414,436.9 1416.1,437.4 1418.3,437.9 1420.4,438.3 1422.6,438.8 1424.7,439.3 1426.8,439.8 1429,440.2 1431.1,440.7 1433.3,441.2 1435.4,441.6 1437.5,442.1 1439.7,442.5 1441.8,443 1444,443.4 1446.1,443.9 1448.2,444.3 1450.4,444.7 1452.5,445.2 1454.7,445.6 1456.8,446 1458.9,446.5 1461.1,446.9 1463.2,447.3 1465.4,447.7 1467.5,448.1 1469.7,448.5 1471.8,448.9 1473.9,449.3 1476.1,449.7 1478.2,450.1 1480.4,450.5 1482.5,450.9 1484.6,451.2 1486.8,451.6 1488.9,452 1491.1,452.4 1493.2,452.7 1495.3,453.1 1497.5,453.4 1499.6,453.8 1501.8,454.1 1503.9,454.5 1506,454.8 1508.2,455.1 1510.3,455.5 1512.5,455.8 1514.6,456.1 1516.7,456.4 1518.9,456.8 1521,457.1 1523.2,457.4 1525.3,457.7 1527.4,458 1529.6,458.3 1531.7,458.6 1533.9,458.9 1536,459.1 1538.1,459.4 1540.3,459.7 1542.4,460 1544.6,460.2 1546.7,460.5 1548.9,460.8 1551,461 1553.1,461.3 1555.3,461.5 1557.4,461.8 1559.6,462 1561.7,462.3 1563.8,462.5 1566,462.7 1568.1,463 1570.3,463.2 1572.4,463.4 1574.5,463.6 1576.7,463.8 1578.8,464.1 1581,464.3 1583.1,464.5 1585.2,464.7 1587.4,464.9 1589.5,465.1 1591.7,465.2 1593.8,465.4 1595.9,465.6 1598.1,465.8 1600.2,466 1602.4,466.1 1604.5,466.3 1606.6,466.5 1608.8,466.7 1610.9,466.8 1613.1,467 1615.2,467.1 1617.3,467.3 1619.5,467.4 1621.6,467.6 1623.8,467.7 1625.9,467.9 1628,468 1630.2,468.2 1632.3,468.3 1634.5,468.4 1636.6,468.5 1638.8,468.7 1640.9,468.8 1643,468.9 1645.2,469 1647.3,469.2 1649.5,469.3 1651.6,469.4 1653.7,469.5 1655.9,469.6 1658,469.7 1660.2,469.8 1662.3,469.9 1664.4,470 1666.6,470.1 1668.7,470.2 1670.9,470.3 1673,470.4 1675.1,470.5 1677.3,470.6 1679.4,470.7 1681.6,470.7 1683.7,470.8 1685.8,470.9 1688,471 1690.1,471.1 1692.3,471.1 1694.4,471.2 1696.5,471.3 1698.7,471.4 1700.8,471.4 1703,471.5 1705.1,471.6 1707.2,471.6 1709.4,471.7 1711.5,471.8 1713.7,471.8 1715.8,471.9 1718,471.9 1720.1,472 1722.2,472.1" fill="none" stroke="#ff5500" stroke-width="5.2" stroke-linejoin="round" stroke-linecap="round"/>
<g fill="#0000ff">
<polygon points="297.5,135.4 303.5,135.4 309.5,144.2 309.5,150.2 303.5,159 297.5,159 291.5,150.2 291.5,144.2"/>
<polygon points="368.7,142 374.7,142 380.7,150.8 380.7,156.8 374.7,165.6 368.7,165.6 362.7,156.8 362.7,150.8"/>
<polygon points="419.2,149.9 425.2,149.9 431.2,158.7 431.2,164.7 425.2,173.5 419.2,173.5 413.2,164.7 413.2,158.7"/>
<polygon points="458.4,156.7 464.4,156.7 470.4,165.5 470.4,171.5 464.4,180.3 458.4,180.3 452.4,171.5 452.4,165.5"/>
<polygon points="490.5,163.6 496.5,163.6 502.5,172.4 502.5,178.4 496.5,187.2 490.5,187.2 484.5,178.4 484.5,172.4"/>
<polygon points="517.6,169.7 523.6,169.7 529.6,178.5 529.6,184.5 523.6,193.3 517.6,193.3 511.6,184.5 511.6,178.5"/>
<polygon points="541,175.3 547,175.3 553,184.1 553,190.1 547,198.9 541,198.9 535,190.1 535,184.1"/>
<polygon points="561.7,180.5 567.7,180.5 573.7,189.3 573.7,195.3 567.7,204.1 561.7,204.1 555.7,195.3 555.7,189.3"/>
<polygon points="580.2,185.3 586.2,185.3 592.2,194.1 592.2,200.1 586.2,208.9 580.2,208.9 574.2,200.1 574.2,194.1"/>
<polygon points="597,189.7 603,189.7 609,198.5 609,204.5 603,213.3 597,213.3 591,204.5 591,198.5"/>
<polygon points="612.2,193.9 618.2,193.9 624.2,202.7 624.2,208.7 618.2,217.5 612.2,217.5 606.2,208.7 606.2,202.7"/>
<polygon points="626.3,197.7 632.3,197.7 638.3,206.5 638.3,212.5 632.3,221.3 626.3,221.3 620.3,212.5 620.3,206.5"/>
<polygon points="639.3,201.5 645.3,201.5 651.3,210.3 651.3,216.3 645.3,225.1 639.3,225.1 633.3,216.3 633.3,210.3"/>
<polygon points="651.4,205.1 657.4,205.1 663.4,213.9 663.4,219.9 657.4,228.7 651.4,228.7 645.4,219.9 645.4,213.9"/>
<polygon points="662.8,208.4 668.8,208.4 674.8,217.2 674.8,223.2 668.8,232 662.8,232 656.8,223.2 656.8,217.2"/>
<polygon points="673.4,211.6 679.4,211.6 685.4,220.4 685.4,226.4 679.4,235.2 673.4,235.2 667.4,226.4 667.4,220.4"/>
<polygon points="683.5,214.6 689.5,214.6 695.5,223.4 695.5,229.4 689.5,238.2 683.5,238.2 677.5,229.4 677.5,223.4"/>
<polygon points="693,217.5 699,217.5 705,226.3 705,232.3 699,241.1 693,241.1 687,232.3 687,226.3"/>
<polygon points="702,220.2 708,220.2 714,229 714,235 708,243.8 702,243.8 696,235 696,229"/>
<polygon points="710.5,222.8 716.5,222.8 722.5,231.6 722.5,237.6 716.5,246.4 710.5,246.4 704.5,237.6 704.5,231.6"/>
</g>
<polygon points="617.1,194.7 631.2,198.6 644.3,202.3 656.5,205.9 667.8,209.2 678.5,212.4 688.6,215.4 698.1,218.2 707.2,220.9 715.8,223.5 724,226 731.8,228.3 739.3,230.6 746.5,232.8 753.4,234.9 760,236.8 766.4,238.7 772.6,240.5 778.5,242.2 784.3,243.9 789.9,245.6 795.3,247.1 800.6,248.7 805.7,250.2 810.7,251.6 815.5,253.1 820.2,254.4 824.8,255.8 829.3,257.1 833.6,258.4 837.9,259.6 842,260.8 846.1,262 850.1,263.2 853.9,264.3 857.7,265.4 861.4,266.5 865.1,267.6 868.6,268.7 872.1,269.7 875.5,270.8 878.8,271.8 882.1,272.8 885.4,273.7 888.5,274.7 891.6,275.6 894.7,276.5 897.7,277.4 900.6,278.3 903.5,279.2 906.4,280 909.2,280.9 912,281.7 914.7,282.5 917.3,283.3 920,284.1 922.6,284.8 925.1,285.6 927.6,286.3 930.1,287 932.6,287.8 935,288.5 937.4,289.2 939.8,289.9 942.1,290.5 944.4,291.2 946.7,291.9 948.9,292.5 951.1,293.2 953.3,293.8 955.4,294.4 957.6,295 959.7,295.7 961.8,296.3 963.8,296.9 965.8,297.5 967.9,298 969.8,298.6 971.8,299.2 973.7,299.8 975.7,300.3 977.6,300.9 979.4,301.4 981.3,302 983.1,302.5 985,303 986.8,303.6 988.5,304.1 990.3,304.6 992.1,305.1 993.8,305.6 995.5,306.1 997.2,306.6 998.9,307.1 1000.5,307.6 1002.2,308.1 1003.8,308.5 1005.4,309 1007.1,309.5 1008.6,309.9 1010.2,310.4 1011.8,310.9 1013.3,311.3 1014.9,311.8 1016.4,312.2 1017.9,312.6 1019.4,313.1 1020.9,313.5 1022.3,313.9 1023.8,314.4 1025.2,314.8 1026.7,315.2 1028.1,315.6 1029.5,316 1030.9,316.4 1032.3,316.8 1033.7,317.2 1035,317.6 1036.4,318 1037.8,318.4 1039.1,318.8 1040.5,319.2 1041.8,319.6 1043.1,320 1044.4,320.4 1045.7,320.8 1046.9,321.2 1048.2,321.6 1049.5,321.9 1050.7,322.3 1052,322.7 1053.2,323.1 1054.4,323.4 1055.6,323.8 1056.8,324.1 1059.2,324.9 1061.6,325.6 1063.9,326.3 1066.2,326.9 1068.5,327.6 1070.7,328.3 1072.9,328.9 1075.1,329.6 1077.3,330.2 1079.4,330.9 1081.5,331.5 1083.6,332.1 1085.6,332.7 1087.7,333.3 1089.7,333.9 1091.7,334.5 1093.6,335.1 1095.6,335.7 1097.5,336.3 1099.4,336.8 1101.3,337.4 1103.1,337.9 1105,338.5 1106.8,339 1108.6,339.6 1110.4,340.1 1112.1,340.6 1113.9,341.1 1115.6,341.7 1117.3,342.2 1119,342.7 1120.7,343.2 1122.4,343.7 1124,344.2 1125.6,344.6 1127.3,345.1 1128.9,345.6 1130.5,346.1 1132,346.5 1133.6,347 1135.1,347.5 1136.7,347.9 1138.2,348.4 1139.7,348.8 1141.2,349.3 1142.7,349.7 1144.1,350.1 1145.6,350.6 1147,351 1148.5,351.4 1149.9,351.8 1151.3,352.3 1152.7,352.7 1154.1,353.1 1155.5,353.5 1156.8,353.9 1158.2,354.3 1159.5,354.7 1160.9,355.1 1162.2,355.5 1163.5,355.8 1164.8,356.2 1166.1,356.6 1167.4,357 1168.7,357.4 1169.9,357.7 1171.2,358.1 1172.4,358.5 1173.7,358.8 1174.9,359.2 1176.1,359.5 1177.3,359.9 1178.6,360.2 1180.3,360.8 1182.1,361.3 1183.9,361.8 1185.6,362.3 1187.3,362.8 1189.1,363.3 1190.7,363.8 1192.4,364.3 1194.1,364.8 1195.7,365.2 1197.3,365.7 1199,366.2 1200.6,366.6 1202.1,367.1 1203.7,367.5 1205.3,368 1206.8,368.4 1208.3,368.9 1209.9,369.3 1211.4,369.8 1212.8,370.2 1214.3,370.6 1215.8,371 1217.2,371.5 1218.7,371.9 1220.1,372.3 1221.5,372.7 1222.9,373.1 1224.3,373.5 1225.7,373.9 1227.1,374.3 1228.4,374.7 1229.8,375.1 1231.1,375.4 1232.5,375.8 1233.8,376.2 1235.1,376.6 1236.4,376.9 1237.7,377.3 1239,377.7 1240.3,378 1241.5,378.4 1242.8,378.8 1244,379.1 1245.3,379.5 1246.5,379.8 1247.7,380.2 1248.9,380.5 1250.1,380.9 1251.7,381.3 1253.3,381.8 1254.9,382.2 1256.4,382.6 1257.9,383.1 1259.5,383.5 1261,383.9 1262.5,384.3 1263.9,384.8 1265.4,385.2 1266.9,385.6 1268.3,386 1269.8,386.4 1271.2,386.8 1272.6,387.2 1274,387.6 1275.4,388 1276.8,388.4 1278.1,388.7 1279.5,389.1 1280.8,389.5 1282.2,389.9 1283.5,390.2 1284.8,390.6 1286.1,391 1287.4,391.3 1288.7,391.7 1290,392 1291.2,392.4 1292.5,392.7 1293.8,393.1 1295,393.4 1296.2,393.8 1297.5,394.1 1298.7,394.4 1299.9,394.8 1301.1,395.1 1302.6,395.5 1304,395.9 1305.5,396.3 1306.9,396.7 1308.4,397.1 1309.8,397.5 1311.2,397.8 1312.6,398.2 1314,398.6 1315.4,399 1316.8,399.3 1318.1,399.7 1319.5,400.1 1320.8,400.4 1322.2,400.8 1323.5,401.2 1324.8,401.5 1326.1,401.9 1327.4,402.2 1328.7,402.6 1329.9,402.9 1331.2,403.2 1332.5,403.6 1333.7,403.9 1334.9,404.2 1336.2,404.6 1337.4,404.9 1338.6,405.2 1339.8,405.5 1341.2,405.9 1342.6,406.3 1344,406.7 1345.4,407 1346.8,407.4 1348.2,407.7 1349.6,408.1 1350.9,408.5 1352.2,408.8 1353.6,409.2 1354.9,409.5 1356.2,409.8 1357.5,410.2 1358.8,410.5 1360.1,410.8 1361.4,411.2 1362.6,411.5 1363.9,411.8 1365.1,412.1 1366.4,412.4 1367.6,412.8 1368.8,413.1 1370,413.4 1371.2,413.7 1372.6,414 1374,414.4 1375.4,414.7 1376.7,415.1 1378.1,415.4 1379.4,415.7 1380.7,416.1 1382.1,416.4 1383.4,416.7 1384.7,417 1386,417.4 1387.2,417.7 1388.5,418 1389.8,418.3 1391,418.6 1392.3,418.9 1393.5,419.2 1394.7,419.5 1395.9,419.8 1397.2,420.1 1398.4,420.4 1399.7,420.7 1401.1,421 1402.4,421.3 1403.7,421.6 1405.1,421.9 1406.4,422.2 1407.7,422.6 1409,422.9 1410.2,423.2 1411.5,423.4 1412.8,423.7 1414,424 1415.3,424.3 1416.5,424.6 1417.7,424.9 1419,425.1 1420.2,425.4 1421.4,425.7 1422.6,426 1423.9,426.3 1425.2,426.6 1426.5,426.8 1427.8,427.1 1429.1,427.4 1430.4,427.7 1431.7,428 1432.9,428.2 1434.2,428.5 1435.5,428.8 1436.7,429.1 1437.9,429.3 1439.1,429.6 1440.3,429.8 1441.5,430.1 1442.7,430.3 1444,430.6 1445.3,430.9 1446.6,431.1 1447.9,431.4 1449.2,431.6 1450.5,431.9 1451.7,432.1 1453,432.4 1454.2,432.6 1455.5,432.9 1456.7,433.1 1457.9,433.3 1459.1,433.6 1460.3,433.8 1461.6,434.1 1462.9,434.3 1464.2,434.5 1465.5,434.8 1466.8,435 1468,435.3 1469.3,435.5 1470.5,435.7 1471.8,435.9 1473,436.2 1474.2,436.4 1475.4,436.6 1476.6,436.8 1477.8,437 1479.1,437.3 1480.4,437.5 1481.7,437.7 1482.9,437.9 1484.2,438.1 1485.4,438.4 1486.7,438.6 1487.9,438.8 1489.1,439 1490.3,439.2 1491.5,439.4 1492.7,439.6 1494,439.8 1495.3,440 1496.5,440.2 1497.8,440.4 1499.1,440.6 1500.3,440.8 1501.5,441 1502.7,441.2 1504,441.4 1505.2,441.6 1506.4,441.7 1507.6,441.9 1508.9,442.1 1510.2,442.3 1511.4,442.5 1512.7,442.7 1513.9,442.9 1515.1,443 1516.3,443.2 1517.6,443.4 1518.8,443.6 1519.9,443.7 1521.2,443.9 1522.5,444.1 1523.7,444.3 1525,444.4 1526.2,444.6 1527.4,444.8 1528.6,444.9 1529.8,445.1 1531,445.3 1532.3,445.4 1533.6,445.6 1534.8,445.7 1536.1,445.9 1537.3,446.1 1538.5,446.2 1539.7,446.4 1540.9,446.5 1542.1,446.7 1543.3,446.8 1544.6,447 1545.8,447.1 1547.1,447.3 1548.3,447.4 1549.5,447.5 1550.8,447.7 1552,447.8 1553.2,448 1554.4,448.1 1555.7,448.2 1556.9,448.4 1558.1,448.5 1559.4,448.6 1560.6,448.8 1561.8,448.9 1563,449 1564.3,449.2 1565.5,449.3 1566.8,449.4 1568,449.6 1569.2,449.7 1570.4,449.8 1571.6,450 1572.8,450.1 1574.1,450.2 1575.3,450.3 1576.6,450.5 1577.8,450.6 1579,450.7 1580.2,450.8 1581.4,450.9 1582.6,451 1583.9,451.2 1585.1,451.3 1586.3,451.4 1587.6,451.5 1588.8,451.6 1590,451.7 1591.2,451.8 1592.4,451.9 1593.7,452 1594.9,452.2 1596.1,452.3 1597.3,452.4 1598.5,452.5 1599.8,452.6 1601,452.7 1602.2,452.8 1603.4,452.9 1604.6,453 1605.8,453.1 1607.1,453.1 1608.3,453.2 1609.5,453.3 1610.8,453.4 1612,453.5 1613.2,453.6 1614.4,453.7 1615.6,453.8 1616.9,453.9 1618.1,454 1619.3,454 1620.5,454.1 1621.7,454.2 1623,454.3 1624.2,454.4 1625.4,454.5 1626.6,454.5 1627.8,454.6 1629,454.7 1630.2,454.8 1631.5,454.9 1632.7,454.9 1633.9,455 1635.1,455.1 1636.3,455.2 1637.6,455.2 1638.8,455.3 1640,455.4 1641.2,455.4 1642.4,455.5 1643.6,455.6 1644.8,455.6 1646,455.7 1647.2,455.8 1648.4,455.8 1649.7,455.9 1650.9,456 1652.1,456 1653.3,456.1 1654.5,456.2 1655.8,456.2 1657,456.3 1658.2,456.3 1659.4,456.4 1660.6,456.5 1661.8,456.5 1663,456.6 1664.2,456.6 1665.5,456.7 1666.7,456.7 1667.9,456.8 1669.1,456.8 1670.3,456.9 1671.5,456.9 1672.7,457 1674,457 1675.2,457.1 1676.4,457.1 1677.6,457.2 1678.8,457.2 1680,457.3 1681.2,457.3 1682.5,457.4 1683.7,457.4 1684.9,457.5 1686.1,457.5 1687.3,457.6 1688.5,457.6 1689.7,457.7 1690.9,457.7 1692.1,457.7 1693.3,457.8 1694.5,457.8 1695.8,457.9 1697,457.9 1698.2,457.9 1699.4,458 1700.6,458 1701.8,458.1 1703,458.1 1704.2,458.1 1705.5,458.2 1706.7,458.2 1707.9,458.2 1709.1,458.3 1710.3,458.3 1711.5,458.3 1712.7,458.4 1713.9,458.4 1715.1,458.5 1716.4,458.5 1717.6,458.5 1718.8,458.6 1720,458.6 1721.2,458.6 1722.4,458.6 1722.5,458.7 1722,482.6 1721.9,482.6 1720.7,482.6 1719.5,482.6 1718.3,482.5 1717.1,482.5 1715.8,482.5 1714.6,482.4 1713.4,482.4 1712.2,482.4 1711,482.3 1709.8,482.3 1708.5,482.3 1707.3,482.2 1706.1,482.2 1704.9,482.2 1703.7,482.1 1702.5,482.1 1701.2,482 1700,482 1698.8,482 1697.6,481.9 1696.4,481.9 1695.1,481.8 1693.9,481.8 1692.7,481.8 1691.5,481.7 1690.3,481.7 1689,481.6 1687.8,481.6 1686.6,481.6 1685.4,481.5 1684.2,481.5 1683,481.4 1681.8,481.4 1680.5,481.3 1679.3,481.3 1678.1,481.2 1676.9,481.2 1675.7,481.1 1674.4,481.1 1673.2,481 1672,481 1670.8,480.9 1669.5,480.9 1668.3,480.8 1667.1,480.8 1665.9,480.7 1664.6,480.7 1663.4,480.6 1662.2,480.5 1661,480.5 1659.7,480.4 1658.5,480.4 1657.3,480.3 1656.1,480.3 1654.8,480.2 1653.6,480.1 1652.4,480.1 1651.1,480 1649.9,479.9 1648.7,479.9 1647.5,479.8 1646.2,479.7 1645,479.7 1643.8,479.6 1642.6,479.5 1641.4,479.5 1640.1,479.4 1638.9,479.3 1637.7,479.3 1636.5,479.2 1635.2,479.1 1634,479 1632.8,479 1631.5,478.9 1630.3,478.8 1629.1,478.7 1627.8,478.7 1626.6,478.6 1625.4,478.5 1624.2,478.4 1622.9,478.3 1621.7,478.3 1620.5,478.2 1619.2,478.1 1618,478 1616.8,477.9 1615.6,477.8 1614.3,477.7 1613.1,477.7 1611.8,477.6 1610.6,477.5 1609.4,477.4 1608.1,477.3 1606.9,477.2 1605.7,477.1 1604.4,477 1603.2,476.9 1602,476.8 1600.7,476.7 1599.5,476.6 1598.2,476.5 1597,476.4 1595.8,476.3 1594.6,476.2 1593.3,476.1 1592.1,476 1590.8,475.9 1589.6,475.8 1588.3,475.6 1587.1,475.5 1585.9,475.4 1584.7,475.3 1583.4,475.2 1582.2,475.1 1580.9,475 1579.6,474.8 1578.4,474.7 1577.2,474.6 1576,474.5 1574.7,474.4 1573.5,474.2 1572.2,474.1 1571,474 1569.7,473.9 1568.5,473.7 1567.3,473.6 1566.1,473.5 1564.8,473.3 1563.5,473.2 1562.3,473.1 1561,472.9 1559.8,472.8 1558.6,472.7 1557.4,472.5 1556.1,472.4 1554.9,472.3 1553.6,472.1 1552.4,472 1551.1,471.8 1549.9,471.7 1548.6,471.6 1547.4,471.4 1546.2,471.3 1544.9,471.1 1543.7,471 1542.4,470.8 1541.1,470.7 1539.9,470.5 1538.7,470.4 1537.5,470.2 1536.2,470.1 1535,469.9 1533.7,469.8 1532.5,469.6 1531.2,469.4 1529.9,469.3 1528.6,469.1 1527.4,468.9 1526.2,468.8 1525,468.6 1523.7,468.4 1522.5,468.3 1521.2,468.1 1519.9,467.9 1518.7,467.7 1517.4,467.6 1516.2,467.4 1514.9,467.2 1513.7,467 1512.5,466.9 1511.2,466.7 1510,466.5 1508.7,466.3 1507.4,466.1 1506.2,465.9 1504.9,465.7 1503.6,465.5 1502.4,465.3 1501.1,465.2 1499.9,465 1498.7,464.8 1497.4,464.6 1496.2,464.4 1494.9,464.2 1493.6,464 1492.3,463.8 1491,463.5 1489.7,463.3 1488.5,463.1 1487.3,462.9 1486.1,462.7 1484.8,462.5 1483.6,462.3 1482.3,462.1 1481.1,461.9 1479.8,461.7 1478.5,461.4 1477.2,461.2 1475.9,461 1474.6,460.7 1473.4,460.5 1472.2,460.3 1470.9,460.1 1469.7,459.9 1468.5,459.6 1467.2,459.4 1465.9,459.2 1464.7,458.9 1463.4,458.7 1462.1,458.5 1460.8,458.2 1459.5,458 1458.2,457.7 1456.8,457.5 1455.6,457.2 1454.4,457 1453.2,456.8 1451.9,456.5 1450.7,456.3 1449.4,456 1448.1,455.8 1446.9,455.5 1445.6,455.3 1444.3,455 1443,454.8 1441.7,454.5 1440.3,454.2 1439,453.9 1437.8,453.7 1436.5,453.4 1435.3,453.2 1434.1,452.9 1432.8,452.6 1431.6,452.4 1430.3,452.1 1429,451.8 1427.8,451.5 1426.5,451.3 1425.2,451 1423.9,450.7 1422.5,450.4 1421.2,450.1 1419.9,449.8 1418.5,449.5 1417.3,449.2 1416.1,449 1414.9,448.7 1413.6,448.4 1412.4,448.1 1411.2,447.8 1409.9,447.6 1408.6,447.3 1407.4,447 1406.1,446.7 1404.8,446.4 1403.5,446.1 1402.2,445.8 1400.8,445.4 1399.5,445.1 1398.2,444.8 1396.8,444.5 1395.4,444.2 1394.1,443.8 1392.8,443.6 1391.6,443.3 1390.4,443 1389.2,442.7 1387.9,442.4 1386.7,442.1 1385.4,441.8 1384.1,441.4 1382.8,441.1 1381.6,440.8 1380.2,440.5 1378.9,440.2 1377.6,439.8 1376.3,439.5 1374.9,439.2 1373.6,438.9 1372.2,438.5 1370.9,438.2 1369.5,437.8 1368.1,437.5 1366.7,437.1 1365.5,436.8 1364.3,436.5 1363,436.2 1361.8,435.9 1360.5,435.6 1359.3,435.2 1358,434.9 1356.8,434.6 1355.5,434.3 1354.2,433.9 1352.9,433.6 1351.6,433.2 1350.2,432.9 1348.9,432.6 1347.6,432.2 1346.2,431.9 1344.9,431.5 1343.5,431.1 1342.1,430.8 1340.7,430.4 1339.3,430 1337.9,429.7 1336.5,429.3 1335,428.9 1333.8,428.6 1332.6,428.3 1331.4,427.9 1330.2,427.6 1328.9,427.3 1327.7,426.9 1326.4,426.6 1325.1,426.3 1323.9,425.9 1322.6,425.6 1321.3,425.2 1320,424.9 1318.6,424.5 1317.3,424.2 1316,423.8 1314.7,423.4 1313.3,423.1 1311.9,422.7 1310.6,422.3 1309.2,422 1307.8,421.6 1306.4,421.2 1305,420.8 1303.5,420.4 1302.1,420 1300.6,419.6 1299.2,419.2 1297.7,418.8 1296.2,418.4 1295,418.1 1293.8,417.8 1292.5,417.4 1291.3,417.1 1290.1,416.7 1288.8,416.4 1287.6,416.1 1286.3,415.7 1285,415.4 1283.8,415 1282.5,414.6 1281.2,414.3 1279.9,413.9 1278.5,413.6 1277.2,413.2 1275.9,412.8 1274.5,412.4 1273.1,412.1 1271.8,411.7 1270.4,411.3 1269,410.9 1267.6,410.5 1266.2,410.1 1264.8,409.7 1263.3,409.3 1261.9,408.9 1260.4,408.5 1258.9,408.1 1257.4,407.6 1255.9,407.2 1254.4,406.8 1252.9,406.4 1251.4,405.9 1249.8,405.5 1248.2,405 1246.7,404.6 1245.1,404.1 1243.9,403.8 1242.6,403.5 1241.4,403.1 1240.2,402.8 1238.9,402.4 1237.7,402.1 1236.4,401.7 1235.2,401.3 1233.9,401 1232.6,400.6 1231.3,400.2 1230,399.9 1228.7,399.5 1227.4,399.1 1226,398.7 1224.7,398.3 1223.3,397.9 1222,397.6 1220.6,397.2 1219.2,396.8 1217.8,396.4 1216.4,396 1215,395.6 1213.6,395.1 1212.1,394.7 1210.7,394.3 1209.2,393.9 1207.7,393.5 1206.2,393 1204.7,392.6 1203.2,392.2 1201.7,391.7 1200.1,391.3 1198.6,390.8 1197,390.4 1195.4,389.9 1193.8,389.4 1192.2,389 1190.6,388.5 1188.9,388 1187.3,387.5 1185.6,387 1183.9,386.6 1182.2,386.1 1180.4,385.6 1178.7,385.1 1176.9,384.5 1175.2,384 1173.4,383.5 1172.2,383.1 1170.9,382.8 1169.7,382.4 1168.5,382.1 1167.2,381.7 1166,381.3 1164.7,381 1163.5,380.6 1162.2,380.2 1160.9,379.9 1159.6,379.5 1158.3,379.1 1157,378.7 1155.6,378.3 1154.3,377.9 1152.9,377.5 1151.6,377.1 1150.2,376.7 1148.8,376.3 1147.4,375.9 1146,375.5 1144.6,375.1 1143.2,374.7 1141.8,374.2 1140.3,373.8 1138.9,373.4 1137.4,372.9 1135.9,372.5 1134.4,372.1 1132.9,371.6 1131.4,371.2 1129.9,370.7 1128.3,370.2 1126.7,369.8 1125.2,369.3 1123.6,368.8 1122,368.4 1120.4,367.9 1118.7,367.4 1117.1,366.9 1115.4,366.4 1113.7,365.9 1112,365.4 1110.3,364.9 1108.6,364.4 1106.8,363.9 1105.1,363.3 1103.3,362.8 1101.5,362.3 1099.7,361.7 1097.8,361.2 1096,360.6 1094.1,360.1 1092.2,359.5 1090.3,358.9 1088.3,358.3 1086.4,357.8 1084.4,357.2 1082.4,356.6 1080.3,356 1078.3,355.3 1076.2,354.7 1074.1,354.1 1072,353.5 1069.8,352.8 1067.6,352.2 1065.4,351.5 1063.2,350.8 1060.9,350.2 1058.6,349.5 1056.3,348.8 1053.9,348.1 1051.5,347.4 1050.3,347 1049.1,346.6 1047.9,346.3 1046.7,345.9 1045.4,345.5 1044.2,345.2 1042.9,344.8 1041.6,344.4 1040.4,344 1039.1,343.6 1037.8,343.2 1036.5,342.9 1035.2,342.5 1033.8,342.1 1032.5,341.7 1031.2,341.3 1029.9,340.9 1028.5,340.5 1027.1,340.1 1025.7,339.7 1024.3,339.3 1022.9,338.9 1021.5,338.5 1020,338 1018.6,337.6 1017.1,337.2 1015.7,336.8 1014.2,336.3 1012.7,335.9 1011.2,335.5 1009.7,335 1008.1,334.6 1006.6,334.1 1005,333.7 1003.4,333.2 1001.9,332.7 1000.3,332.3 998.6,331.8 997,331.3 995.4,330.8 993.7,330.4 992,329.9 990.3,329.4 988.6,328.9 986.9,328.4 985.1,327.9 983.3,327.3 981.6,326.8 979.8,326.3 977.9,325.8 976.1,325.2 974.2,324.7 972.4,324.1 970.5,323.6 968.5,323 966.6,322.5 964.6,321.9 962.7,321.3 960.6,320.7 958.6,320.1 956.6,319.5 954.5,318.9 952.4,318.3 950.3,317.7 948.1,317.1 945.9,316.4 943.7,315.8 941.5,315.1 939.2,314.5 936.9,313.8 934.6,313.1 932.2,312.4 929.8,311.7 927.4,311 924.9,310.3 922.5,309.6 919.9,308.8 917.4,308.1 914.8,307.3 912.1,306.6 909.4,305.8 906.6,304.9 903.9,304.1 901.1,303.3 898.2,302.4 895.3,301.5 892.4,300.6 889.3,299.7 886.3,298.8 883.2,297.9 880,296.9 876.8,296 873.5,295 870.2,294 866.8,293 863.3,291.9 859.7,290.8 856.1,289.8 852.4,288.7 848.7,287.5 844.8,286.3 840.9,285.1 836.9,283.9 832.8,282.6 828.5,281.3 824.2,280 819.8,278.7 815.2,277.3 810.6,275.9 805.8,274.4 800.9,272.9 795.8,271.4 790.6,269.8 785.2,268.2 779.6,266.5 773.9,264.8 767.9,263 761.8,261.1 755.4,259.2 748.8,257.2 741.9,255.1 734.7,252.9 727.3,250.6 719.5,248.2 711.3,245.7 702.8,243 693.8,240.3 684.3,237.4 674.3,234.4 663.7,231.2 652.4,227.8 640.3,224.3 627.4,220.5 613.4,216.6" fill="#0000ff"/>
<ellipse cx="1722.2" cy="470.6" rx="10.5" ry="12" fill="#0000ff"/>
<polyline points="226,146.4 228.1,146.5 230.3,146.6 232.4,146.6 234.6,146.7 236.7,146.8 238.8,146.9 241,146.9 243.1,147 245.3,147.1 247.4,147.2 249.5,147.3 251.7,147.3 253.8,147.4 256,147.5 258.1,147.6 260.2,147.7 262.4,147.8 264.5,147.9 266.7,148 268.8,148.1 271,148.2 273.1,148.3 275.2,148.4 277.4,148.5 279.5,148.7 281.7,148.8 283.8,148.9 285.9,149 288.1,149.1 290.2,149.3 292.4,149.4 294.5,149.5 296.6,149.6 298.8,149.8 300.9,149.9 303.1,150.1 305.2,150.2 307.3,150.3 309.5,150.5 311.6,150.7 313.8,150.8 315.9,151 318,151.1 320.2,151.3 322.3,151.5 324.5,151.6 326.6,151.8 328.7,152 330.9,152.1 333,152.3 335.2,152.5 337.3,152.7 339.4,152.9 341.6,153.1 343.7,153.3 345.9,153.5 348,153.7 350.2,153.9 352.3,154.1 354.4,154.3 356.6,154.5 358.7,154.8 360.9,155 363,155.2 365.1,155.5 367.3,155.7 369.4,155.9 371.6,156.2 373.7,156.4 375.8,156.7 378,156.9 380.1,157.2 382.3,157.5 384.4,157.7 386.5,158 388.7,158.3 390.8,158.5 393,158.8 395.1,159.1 397.2,159.4 399.4,159.7 401.5,160 403.7,160.3 405.8,160.6 407.9,160.9 410.1,161.2 412.2,161.5 414.4,161.9 416.5,162.2 418.6,162.5 420.8,162.8 422.9,163.2 425.1,163.5 427.2,163.9 429.4,164.2 431.5,164.6 433.6,164.9 435.8,165.3 437.9,165.6 440.1,166 442.2,166.4 444.3,166.8 446.5,167.1 448.6,167.5 450.8,167.9 452.9,168.3 455,168.7 457.2,169.1 459.3,169.5 461.5,169.9 463.6,170.3 465.7,170.7 467.9,171.1 470,171.5 472.2,172 474.3,172.4 476.4,172.8 478.6,173.3 480.7,173.7 482.9,174.1 485,174.6 487.1,175 489.3,175.5 491.4,175.9 493.6,176.4 495.7,176.8 497.8,177.3 500,177.8 502.1,178.2 504.3,178.7 506.4,179.2 508.6,179.7 510.7,180.2 512.8,180.6 515,181.1 517.1,181.6 519.3,182.1 521.4,182.6 523.5,183.1 525.7,183.6 527.8,184.1 530,184.6 532.1,185.1 534.2,185.6 536.4,186.2 538.5,186.7 540.7,187.2 542.8,187.7 544.9,188.2 547.1,188.8 549.2,189.3 551.4,189.8 553.5,190.4 555.6,190.9 557.8,191.4 559.9,192 562.1,192.5 564.2,193.1 566.3,193.6 568.5,194.1 570.6,194.7 572.8,195.3 574.9,195.8 577,196.4 579.2,196.9 581.3,197.5 583.5,198 585.6,198.6 587.8,199.2 589.9,199.7 592,200.3 594.2,200.9 596.3,201.4 598.5,202 600.6,202.6 602.7,203.2 604.9,203.7 607,204.3 609.2,204.9 611.3,205.5 613.4,206.1 615.6,206.6 617.7,207.2 619.9,207.8 622,208.4 624.1,209 626.3,209.6 628.4,210.2 630.6,210.8 632.7,211.4 634.8,212 637,212.6 639.1,213.2 641.3,213.7 643.4,214.3 645.5,214.9 647.7,215.5 649.8,216.2 652,216.8 654.1,217.4 656.2,218 658.4,218.6 660.5,219.2 662.7,219.8 664.8,220.4 667,221 669.1,221.6 671.2,222.2 673.4,222.8 675.5,223.4 677.7,224.1 679.8,224.7 681.9,225.3 684.1,225.9 686.2,226.5 688.4,227.1 690.5,227.7 692.6,228.4 694.8,229 696.9,229.6 699.1,230.2 701.2,230.8 703.3,231.5 705.5,232.1 707.6,232.7 709.8,233.3 711.9,233.9 714,234.6 716.2,235.2 718.3,235.8 720.5,236.4 722.6,237.1 724.7,237.7 726.9,238.3 729,238.9 731.2,239.6 733.3,240.2 735.4,240.8 737.6,241.4 739.7,242.1 741.9,242.7 744,243.3 746.1,244 748.3,244.6 750.4,245.2 752.6,245.8 754.7,246.5 756.9,247.1 759,247.7 761.1,248.4 763.3,249 765.4,249.6 767.6,250.3 769.7,250.9 771.8,251.5 774,252.2 776.1,252.8 778.3,253.4 780.4,254.1 782.5,254.7 784.7,255.3 786.8,256 789,256.6 791.1,257.2 793.2,257.9 795.4,258.5 797.5,259.1 799.7,259.8 801.8,260.4 803.9,261 806.1,261.7 808.2,262.3 810.4,263 812.5,263.6 814.6,264.2 816.8,264.9 818.9,265.5 821.1,266.1 823.2,266.8 825.3,267.4 827.5,268 829.6,268.7 831.8,269.3 833.9,270 836.1,270.6 838.2,271.2 840.3,271.9 842.5,272.5 844.6,273.2 846.8,273.8 848.9,274.4 851,275.1 853.2,275.7 855.3,276.3 857.5,277 859.6,277.6 861.7,278.3 863.9,278.9 866,279.5 868.2,280.2 870.3,280.8 872.4,281.5 874.6,282.1 876.7,282.7 878.9,283.4 881,284 883.1,284.7 885.3,285.3 887.4,285.9 889.6,286.6 891.7,287.2 893.8,287.9 896,288.5 898.1,289.1 900.3,289.8 902.4,290.4 904.5,291.1 906.7,291.7 908.8,292.3 911,293 913.1,293.6 915.3,294.3 917.4,294.9 919.5,295.5 921.7,296.2 923.8,296.8 926,297.5 928.1,298.1 930.2,298.7 932.4,299.4 934.5,300 936.7,300.7 938.8,301.3 940.9,302 943.1,302.6 945.2,303.2 947.4,303.9 949.5,304.5 951.6,305.2 953.8,305.8 955.9,306.4 958.1,307.1 960.2,307.7 962.3,308.4 964.5,309 966.6,309.6 968.8,310.3 970.9,310.9 973,311.6 975.2,312.2 977.3,312.9 979.5,313.5 981.6,314.1 983.7,314.8 985.9,315.4 988,316.1 990.2,316.7 992.3,317.3 994.5,318 996.6,318.6 998.7,319.3 1000.9,319.9 1003,320.5 1005.2,321.2 1007.3,321.8 1009.4,322.5 1011.6,323.1 1013.7,323.7 1015.9,324.4 1018,325 1020.1,325.7 1022.3,326.3 1024.4,326.9 1026.6,327.6 1028.7,328.2 1030.8,328.9 1033,329.5 1035.1,330.1 1037.3,330.8 1039.4,331.4 1041.5,332.1 1043.7,332.7 1045.8,333.4 1048,334 1050.1,334.6 1052.2,335.3 1054.4,335.9 1056.5,336.5 1058.7,337.2 1060.8,337.8 1062.9,338.5 1065.1,339.1 1067.2,339.7 1069.4,340.4 1071.5,341 1073.7,341.7 1075.8,342.3 1077.9,342.9 1080.1,343.6 1082.2,344.2 1084.4,344.9 1086.5,345.5 1088.6,346.1 1090.8,346.8 1092.9,347.4 1095.1,348 1097.2,348.7 1099.3,349.3 1101.5,350 1103.6,350.6 1105.8,351.2 1107.9,351.9 1110,352.5 1112.2,353.1 1114.3,353.8 1116.5,354.4 1118.6,355.1 1120.7,355.7 1122.9,356.3 1125,357 1127.2,357.6 1129.3,358.2 1131.4,358.9 1133.6,359.5 1135.7,360.1 1137.9,360.8 1140,361.4 1142.1,362 1144.3,362.7 1146.4,363.3 1148.6,363.9 1150.7,364.6 1152.9,365.2 1155,365.8 1157.1,366.5 1159.3,367.1 1161.4,367.7 1163.6,368.4 1165.7,369 1167.8,369.6 1170,370.3 1172.1,370.9 1174.3,371.5 1176.4,372.2 1178.5,372.8 1180.7,373.4 1182.8,374 1185,374.7 1187.1,375.3 1189.2,375.9 1191.4,376.6 1193.5,377.2 1195.7,377.8 1197.8,378.4 1199.9,379.1 1202.1,379.7 1204.2,380.3 1206.4,380.9 1208.5,381.6 1210.6,382.2 1212.8,382.8 1214.9,383.4 1217.1,384.1 1219.2,384.7 1221.3,385.3 1223.5,385.9 1225.6,386.5 1227.8,387.2 1229.9,387.8 1232.1,388.4 1234.2,389 1236.3,389.6 1238.5,390.3 1240.6,390.9 1242.8,391.5 1244.9,392.1 1247,392.7 1249.2,393.3 1251.3,393.9 1253.5,394.6 1255.6,395.2 1257.7,395.8 1259.9,396.4 1262,397 1264.2,397.6 1266.3,398.2 1268.4,398.8 1270.6,399.4 1272.7,400 1274.9,400.6 1277,401.2 1279.1,401.9 1281.3,402.5 1283.4,403.1 1285.6,403.7 1287.7,404.3 1289.8,404.8 1292,405.4 1294.1,406 1296.3,406.6 1298.4,407.2 1300.5,407.8 1302.7,408.4 1304.8,409 1307,409.6 1309.1,410.2 1311.3,410.8 1313.4,411.4 1315.5,411.9 1317.7,412.5 1319.8,413.1 1322,413.7 1324.1,414.3 1326.2,414.8 1328.4,415.4 1330.5,416 1332.7,416.6 1334.8,417.1 1336.9,417.7 1339.1,418.3 1341.2,418.8 1343.4,419.4 1345.5,420 1347.6,420.5 1349.8,421.1 1351.9,421.6 1354.1,422.2 1356.2,422.7 1358.3,423.3 1360.5,423.8 1362.6,424.4 1364.8,424.9 1366.9,425.5 1369,426 1371.2,426.6 1373.3,427.1 1375.5,427.6 1377.6,428.2 1379.7,428.7 1381.9,429.2 1384,429.8 1386.2,430.3 1388.3,430.8 1390.5,431.3 1392.6,431.8 1394.7,432.3 1396.9,432.9 1399,433.4 1401.2,433.9 1403.3,434.4 1405.4,434.9 1407.6,435.4 1409.7,435.9 1411.9,436.4 1414,436.9 1416.1,437.3 1418.3,437.8 1420.4,438.3 1422.6,438.8 1424.7,439.3 1426.8,439.7 1429,440.2 1431.1,440.7 1433.3,441.1 1435.4,441.6 1437.5,442 1439.7,442.5 1441.8,442.9 1444,443.4 1446.1,443.8 1448.2,444.3 1450.4,444.7 1452.5,445.1 1454.7,445.6 1456.8,446 1458.9,446.4 1461.1,446.8 1463.2,447.3 1465.4,447.7 1467.5,448.1 1469.7,448.5 1471.8,448.9 1473.9,449.3 1476.1,449.7 1478.2,450.1 1480.4,450.4 1482.5,450.8 1484.6,451.2 1486.8,451.6 1488.9,452 1491.1,452.3 1493.2,452.7 1495.3,453 1497.5,453.4 1499.6,453.7 1501.8,454.1 1503.9,454.4 1506,454.8 1508.2,455.1 1510.3,455.4 1512.5,455.8 1514.6,456.1 1516.7,456.4 1518.9,456.7 1521,457 1523.2,457.4 1525.3,457.7 1527.4,458 1529.6,458.3 1531.7,458.6 1533.9,458.8 1536,459.1 1538.1,459.4 1540.3,459.7 1542.4,460 1544.6,460.2 1546.7,460.5 1548.9,460.8 1551,461 1553.1,461.3 1555.3,461.5 1557.4,461.8 1559.6,462 1561.7,462.2 1563.8,462.5 1566,462.7 1568.1,462.9 1570.3,463.2 1572.4,463.4 1574.5,463.6 1576.7,463.8 1578.8,464 1581,464.2 1583.1,464.4 1585.2,464.6 1587.4,464.8 1589.5,465 1591.7,465.2 1593.8,465.4 1595.9,465.6 1598.1,465.8 1600.2,466 1602.4,466.1 1604.5,466.3 1606.6,466.5 1608.8,466.6 1610.9,466.8 1613.1,467 1615.2,467.1 1617.3,467.3 1619.5,467.4 1621.6,467.6 1623.8,467.7 1625.9,467.9 1628,468 1630.2,468.1 1632.3,468.3 1634.5,468.4 1636.6,468.5 1638.8,468.7 1640.9,468.8 1643,468.9 1645.2,469 1647.3,469.2 1649.5,469.3 1651.6,469.4 1653.7,469.5 1655.9,469.6 1658,469.7 1660.2,469.8 1662.3,469.9 1664.4,470 1666.6,470.1 1668.7,470.2 1670.9,470.3 1673,470.4 1675.1,470.5 1677.3,470.6 1679.4,470.7 1681.6,470.7 1683.7,470.8 1685.8,470.9 1688,471 1690.1,471.1 1692.3,471.1 1694.4,471.2 1696.5,471.3 1698.7,471.4 1700.8,471.4 1703,471.5 1705.1,471.6 1707.2,471.6 1709.4,471.7 1711.5,471.8 1713.7,471.8 1715.8,471.9 1718,471.9 1720.1,472 1722.2,472" fill="none" stroke="#0000ff" stroke-width="6.5" stroke-linejoin="round" stroke-linecap="round"/>
<g fill="#ff0000">
<circle cx="300.5" cy="931.2" r="9.2"/>
<circle cx="371.7" cy="987.7" r="9.2"/>
<circle cx="422.2" cy="1011.8" r="9.2"/>
<circle cx="461.4" cy="1034.6" r="9.2"/>
<circle cx="493.5" cy="1047.4" r="9.2"/>
<circle cx="520.6" cy="1061.6" r="9.2"/>
<circle cx="544" cy="1067.3" r="9.2"/>
<circle cx="564.7" cy="1074.5" r="9.2"/>
<circle cx="583.2" cy="1074.7" r="9.2"/>
<circle cx="600" cy="1078.9" r="9.2"/>
<circle cx="615.2" cy="1082.3" r="9.2"/>
<circle cx="629.3" cy="1085.3" r="9.2"/>
<circle cx="642.3" cy="1087.8" r="9.2"/>
<circle cx="654.4" cy="1089.9" r="9.2"/>
<circle cx="665.8" cy="1091.8" r="9.2"/>
<circle cx="676.4" cy="1093.4" r="9.2"/>
<circle cx="686.5" cy="1094.8" r="9.2"/>
<circle cx="696" cy="1096.1" r="9.2"/>
<circle cx="705" cy="1097.2" r="9.2"/>
<circle cx="713.5" cy="1098.2" r="9.2"/>
</g>
<polygon points="617,1073.7 631,1076.5 644,1078.9 656,1080.9 667.2,1082.6 677.8,1084.1 687.8,1085.5 697.2,1086.6 706.1,1087.6 714.7,1088.5 722.8,1089.3 730.5,1090 738,1090.6 745.1,1091.2 751.9,1091.7 758.5,1092.1 764.8,1092.4 770.9,1092.7 776.9,1093 782.6,1093.2 788.1,1093.4 793.5,1093.5 798.7,1093.7 803.8,1093.8 808.7,1093.9 813.5,1094 818.1,1094 822.7,1094.1 827.1,1094.1 831.4,1094.1 835.6,1094.1 839.7,1094.1 843.7,1094.1 847.7,1094 851.5,1094 855.2,1093.9 858.9,1094 862.5,1094 866,1094.1 869.5,1094.1 872.9,1094.1 876.3,1094.1 879.5,1094.1 882.7,1094.2 885.9,1094.2 889,1094.2 892,1094.2 895,1094.2 897.9,1094.2 900.8,1094.1 903.6,1094.1 906.4,1094.1 909.2,1094.1 911.9,1094 914.6,1094 917.2,1094 919.8,1093.9 922.3,1093.9 924.8,1093.8 927.3,1093.8 929.7,1093.7 932.1,1093.7 934.5,1093.6 936.9,1093.6 939.2,1093.5 941.4,1093.5 943.7,1093.4 945.9,1093.3 948.1,1093.3 950.3,1093.2 952.4,1093.1 954.5,1093.1 956.6,1093 958.7,1092.9 960.7,1092.8 962.7,1092.7 964.7,1092.7 966.7,1092.6 968.7,1092.5 970.6,1092.4 972.5,1092.3 974.4,1092.2 976.2,1092.2 978.1,1092.1 979.9,1092 981.7,1091.9 983.5,1091.8 985.3,1091.7 987,1091.6 988.8,1091.5 990.5,1091.4 992.2,1091.3 993.9,1091.2 995.5,1091.1 997.2,1091 998.8,1090.9 1000.4,1090.8 1002.1,1090.7 1003.6,1090.6 1005.2,1090.5 1006.8,1090.4 1008.3,1090.3 1009.9,1090.2 1011.4,1090.1 1012.9,1090 1014.4,1089.9 1015.9,1089.8 1017.3,1089.7 1018.8,1089.6 1020.3,1089.5 1021.7,1089.4 1023.1,1089.2 1024.5,1089.1 1025.9,1089 1027.3,1088.9 1028.7,1088.8 1030,1088.7 1031.4,1088.6 1032.8,1088.5 1034.1,1088.4 1035.4,1088.2 1036.8,1088.1 1038.1,1088 1039.4,1087.9 1040.6,1087.8 1041.9,1087.7 1043.2,1087.6 1044.4,1087.5 1045.7,1087.4 1046.9,1087.3 1048.2,1087.1 1049.4,1087 1050.6,1086.9 1051.8,1086.8 1053,1086.7 1055.4,1086.5 1057.7,1086.2 1060,1086 1062.3,1085.8 1064.5,1085.5 1066.7,1085.3 1068.9,1085.1 1071.1,1084.8 1073.2,1084.6 1075.3,1084.4 1077.4,1084.1 1079.5,1083.9 1081.5,1083.6 1083.5,1083.4 1085.5,1083.2 1087.5,1082.9 1089.4,1082.7 1091.3,1082.4 1093.2,1082.2 1095.1,1082 1097,1081.7 1098.8,1081.5 1100.6,1081.2 1102.4,1081 1104.2,1080.7 1106,1080.5 1107.7,1080.2 1109.4,1080 1111.1,1079.7 1112.8,1079.5 1114.5,1079.2 1116.2,1079 1117.8,1078.8 1119.4,1078.5 1121.1,1078.3 1122.7,1078 1124.2,1077.8 1125.8,1077.5 1127.4,1077.3 1128.9,1077 1130.4,1076.7 1132,1076.5 1133.5,1076.2 1134.9,1076 1136.4,1075.7 1137.9,1075.5 1139.3,1075.2 1140.8,1075 1142.2,1074.7 1143.6,1074.5 1145,1074.2 1146.4,1074 1147.8,1073.7 1149.2,1073.5 1150.5,1073.2 1151.9,1073 1153.2,1072.7 1154.5,1072.4 1155.9,1072.2 1157.2,1071.9 1158.5,1071.7 1159.7,1071.4 1161,1071.2 1162.3,1070.9 1163.5,1070.7 1164.8,1070.4 1166,1070.2 1167.3,1069.9 1168.5,1069.6 1169.7,1069.4 1170.9,1069.1 1172.1,1068.9 1173.3,1068.6 1175.1,1068.2 1176.8,1067.9 1178.6,1067.5 1180.3,1067.1 1182,1066.7 1183.6,1066.3 1185.3,1065.9 1187,1065.5 1188.6,1065.2 1190.2,1064.8 1191.8,1064.4 1193.4,1064 1195,1063.6 1196.5,1063.2 1198.1,1062.9 1199.6,1062.5 1201.1,1062.1 1202.6,1061.7 1204.1,1061.3 1205.6,1060.9 1207.1,1060.6 1208.5,1060.2 1210,1059.8 1211.4,1059.4 1212.8,1059 1214.2,1058.6 1215.6,1058.2 1217,1057.9 1218.4,1057.5 1219.7,1057.1 1221.1,1056.7 1222.4,1056.3 1223.7,1055.9 1225.1,1055.6 1226.4,1055.2 1227.7,1054.8 1229,1054.4 1230.2,1054 1231.5,1053.6 1232.8,1053.3 1234,1052.9 1235.3,1052.5 1236.5,1052.1 1237.7,1051.7 1238.9,1051.4 1240.1,1051 1241.3,1050.6 1242.5,1050.2 1243.7,1049.8 1245.3,1049.3 1246.8,1048.8 1248.4,1048.3 1249.9,1047.8 1251.4,1047.3 1252.9,1046.8 1254.4,1046.3 1255.8,1045.8 1257.3,1045.3 1258.7,1044.8 1260.2,1044.3 1261.6,1043.7 1263,1043.2 1264.4,1042.7 1265.8,1042.2 1267.2,1041.7 1268.5,1041.2 1269.9,1040.7 1271.2,1040.2 1272.5,1039.7 1273.9,1039.2 1275.2,1038.7 1276.5,1038.2 1277.8,1037.7 1279.1,1037.2 1280.3,1036.7 1281.6,1036.2 1282.8,1035.7 1284.1,1035.2 1285.3,1034.7 1286.5,1034.2 1287.8,1033.7 1289,1033.2 1290.2,1032.7 1291.4,1032.3 1292.6,1031.8 1293.7,1031.3 1295.2,1030.6 1296.6,1030 1298.1,1029.4 1299.5,1028.8 1300.9,1028.2 1302.3,1027.6 1303.7,1027 1305.1,1026.3 1306.4,1025.7 1307.8,1025.1 1309.1,1024.5 1310.5,1023.9 1311.8,1023.3 1313.1,1022.7 1314.4,1022.1 1315.7,1021.5 1317,1020.9 1318.3,1020.3 1319.5,1019.7 1320.8,1019.1 1322.1,1018.5 1323.3,1017.9 1324.5,1017.3 1325.7,1016.7 1327,1016.1 1328.2,1015.5 1329.4,1014.9 1330.5,1014.3 1331.7,1013.7 1333.1,1013 1334.5,1012.3 1335.9,1011.6 1337.3,1010.8 1338.6,1010.1 1340,1009.4 1341.3,1008.7 1342.7,1008 1344,1007.3 1345.3,1006.6 1346.6,1005.9 1347.9,1005.2 1349.2,1004.5 1350.4,1003.8 1351.7,1003.1 1352.9,1002.4 1354.2,1001.8 1355.4,1001.1 1356.7,1000.4 1357.9,999.7 1359.1,999 1360.3,998.3 1361.5,997.6 1362.7,997 1364,996.2 1365.4,995.4 1366.7,994.6 1368.1,993.8 1369.4,993 1370.7,992.2 1372,991.4 1373.3,990.7 1374.6,989.9 1375.9,989.1 1377.2,988.3 1378.5,987.6 1379.7,986.8 1381,986 1382.2,985.3 1383.4,984.5 1384.6,983.7 1385.9,983 1387.1,982.2 1388.3,981.5 1389.4,980.7 1390.8,979.8 1392.1,979 1393.4,978.1 1394.8,977.3 1396.1,976.4 1397.4,975.6 1398.7,974.7 1399.9,973.9 1401.2,973.1 1402.5,972.2 1403.7,971.4 1405,970.6 1406.2,969.7 1407.4,968.9 1408.6,968.1 1409.8,967.3 1411,966.5 1412.2,965.6 1413.4,964.8 1414.7,963.9 1416,963 1417.3,962.1 1418.6,961.2 1419.9,960.3 1421.2,959.4 1422.5,958.5 1423.7,957.6 1425,956.8 1426.2,955.9 1427.4,955 1428.7,954.1 1429.9,953.3 1431.1,952.4 1432.3,951.5 1433.5,950.7 1434.8,949.7 1436.1,948.8 1437.4,947.8 1438.7,946.9 1439.9,946 1441.2,945 1442.5,944.1 1443.7,943.2 1444.9,942.3 1446.2,941.3 1447.4,940.4 1448.6,939.5 1449.8,938.6 1451,937.7 1452.3,936.8 1453.6,935.8 1454.9,934.8 1456.2,933.8 1457.5,932.9 1458.7,931.9 1460,931 1461.2,930 1462.5,929.1 1463.7,928.1 1464.9,927.2 1466.1,926.3 1467.3,925.3 1468.5,924.4 1469.8,923.4 1471.1,922.4 1472.4,921.4 1473.6,920.5 1474.9,919.5 1476.1,918.5 1477.4,917.6 1478.6,916.6 1479.8,915.6 1481.1,914.7 1482.3,913.8 1483.5,912.8 1484.8,911.8 1486,910.8 1487.3,909.8 1488.6,908.8 1489.8,907.8 1491.1,906.9 1492.3,905.9 1493.5,904.9 1494.8,904 1496,903 1497.2,902.1 1498.5,901 1499.7,900 1501,899 1502.3,898 1503.5,897 1504.8,896.1 1506,895.1 1507.2,894.1 1508.4,893.2 1509.7,892.2 1510.9,891.3 1512.1,890.2 1513.4,889.2 1514.7,888.3 1515.9,887.3 1517.2,886.3 1518.4,885.3 1519.6,884.3 1520.8,883.4 1522.1,882.4 1523.3,881.4 1524.6,880.4 1525.9,879.4 1527.1,878.4 1528.4,877.5 1529.6,876.5 1530.8,875.5 1532.1,874.6 1533.3,873.6 1534.5,872.7 1535.8,871.7 1537,870.7 1538.3,869.7 1539.5,868.8 1540.8,867.8 1542,866.9 1543.2,865.9 1544.4,865 1545.7,864 1547,863 1548.2,862.1 1549.5,861.1 1550.7,860.2 1551.9,859.2 1553.2,858.3 1554.4,857.4 1555.7,856.4 1556.9,855.4 1558.2,854.5 1559.4,853.5 1560.7,852.6 1561.9,851.7 1563.1,850.7 1564.3,849.8 1565.6,848.9 1566.9,847.9 1568.1,847 1569.4,846.1 1570.6,845.2 1571.8,844.3 1573,843.4 1574.3,842.4 1575.6,841.5 1576.8,840.6 1578.1,839.7 1579.3,838.8 1580.5,837.9 1581.8,837 1583,836.1 1584.3,835.2 1585.5,834.3 1586.8,833.4 1588,832.5 1589.2,831.6 1590.5,830.8 1591.7,829.9 1593,829 1594.2,828.1 1595.5,827.2 1596.7,826.4 1597.9,825.5 1599.2,824.7 1600.4,823.8 1601.7,822.9 1602.9,822.1 1604.2,821.2 1605.4,820.4 1606.7,819.5 1607.9,818.7 1609.2,817.8 1610.4,817 1611.6,816.2 1612.9,815.4 1614.1,814.5 1615.4,813.7 1616.6,812.9 1617.9,812 1619.1,811.2 1620.3,810.4 1621.6,809.6 1622.8,808.8 1624.1,808 1625.3,807.2 1626.5,806.4 1627.8,805.6 1629.1,804.8 1630.3,804.1 1631.5,803.3 1632.8,802.5 1634,801.7 1635.2,801 1636.5,800.2 1637.7,799.4 1638.9,798.7 1640.2,797.9 1641.4,797.2 1642.7,796.4 1643.9,795.7 1645.1,794.9 1646.4,794.2 1647.7,793.4 1648.9,792.7 1650.1,792 1651.4,791.3 1652.6,790.5 1653.9,789.8 1655.1,789.1 1656.3,788.4 1657.6,787.7 1658.8,787 1660.1,786.3 1661.3,785.6 1662.5,784.9 1663.8,784.2 1665,783.5 1666.3,782.8 1667.5,782.1 1668.8,781.4 1670,780.7 1671.3,780.1 1672.5,779.4 1673.7,778.7 1675,778.1 1676.2,777.4 1677.4,776.8 1678.7,776.1 1679.9,775.5 1681.2,774.8 1682.4,774.2 1683.6,773.5 1684.9,772.9 1686.1,772.3 1687.3,771.6 1688.6,771 1689.8,770.4 1691.1,769.8 1692.3,769.2 1693.5,768.6 1694.8,767.9 1696,767.3 1697.2,766.7 1698.5,766.1 1699.7,765.5 1701,765 1702.2,764.4 1703.4,763.8 1704.7,763.2 1705.9,762.6 1707.2,762.1 1708.4,761.5 1709.6,760.9 1710.9,760.3 1712.1,759.8 1713.4,759.2 1714.6,758.7 1715.8,758.1 1717.1,757.6 1717.1,757.5 1727.3,780.6 1727.3,780.6 1726.1,781.1 1724.9,781.7 1723.7,782.2 1722.5,782.7 1721.3,783.3 1720.1,783.8 1718.9,784.4 1717.7,784.9 1716.5,785.5 1715.4,786 1714.2,786.6 1713,787.2 1711.8,787.7 1710.6,788.3 1709.4,788.8 1708.2,789.4 1707,790 1705.9,790.6 1704.7,791.2 1703.5,791.8 1702.3,792.3 1701.1,792.9 1699.9,793.5 1698.7,794.1 1697.5,794.7 1696.3,795.3 1695.1,796 1694,796.6 1692.8,797.2 1691.6,797.8 1690.4,798.4 1689.2,799.1 1688,799.7 1686.8,800.3 1685.6,801 1684.4,801.6 1683.2,802.2 1682,802.9 1680.8,803.5 1679.6,804.2 1678.4,804.8 1677.3,805.5 1676.1,806.2 1674.8,806.9 1673.7,807.5 1672.5,808.2 1671.3,808.9 1670.1,809.6 1668.9,810.2 1667.7,810.9 1666.5,811.6 1665.3,812.3 1664.1,813 1662.9,813.7 1661.7,814.4 1660.5,815.1 1659.3,815.8 1658.1,816.6 1656.9,817.3 1655.7,818 1654.5,818.7 1653.3,819.5 1652.1,820.2 1650.9,820.9 1649.7,821.6 1648.5,822.4 1647.3,823.1 1646.1,823.9 1644.9,824.6 1643.7,825.4 1642.5,826.1 1641.3,826.9 1640.1,827.7 1638.9,828.4 1637.7,829.2 1636.5,830 1635.3,830.8 1634.1,831.6 1632.9,832.3 1631.7,833.1 1630.5,833.9 1629.3,834.7 1628.1,835.5 1626.8,836.3 1625.6,837.1 1624.5,837.9 1623.2,838.7 1622,839.6 1620.8,840.4 1619.6,841.2 1618.4,842 1617.2,842.9 1616,843.7 1614.8,844.5 1613.5,845.4 1612.3,846.2 1611.1,847.1 1609.9,847.9 1608.7,848.7 1607.5,849.6 1606.3,850.5 1605,851.3 1603.8,852.2 1602.6,853 1601.4,853.9 1600.2,854.8 1599,855.6 1597.8,856.5 1596.5,857.4 1595.3,858.3 1594.1,859.2 1592.9,860 1591.7,860.9 1590.5,861.8 1589.2,862.7 1588,863.6 1586.8,864.5 1585.6,865.4 1584.4,866.3 1583.2,867.2 1581.9,868.1 1580.7,869.1 1579.4,870 1578.3,870.9 1577,871.8 1575.8,872.7 1574.6,873.6 1573.4,874.6 1572.2,875.5 1570.9,876.4 1569.6,877.4 1568.5,878.3 1567.2,879.2 1566,880.2 1564.8,881.1 1563.6,882 1562.3,883 1561.1,884 1559.8,884.9 1558.6,885.9 1557.4,886.8 1556.2,887.7 1555,888.7 1553.7,889.6 1552.5,890.6 1551.2,891.6 1550,892.6 1548.8,893.5 1547.6,894.4 1546.4,895.4 1545.1,896.3 1543.9,897.3 1542.7,898.3 1541.4,899.3 1540.2,900.2 1538.9,901.2 1537.6,902.2 1536.4,903.2 1535.2,904.1 1534,905.1 1532.8,906.1 1531.5,907.1 1530.3,908 1529,909 1527.7,910 1526.5,911 1525.3,912 1524.1,912.9 1522.8,913.9 1521.6,914.9 1520.4,915.8 1519.1,916.8 1517.9,917.8 1516.6,918.8 1515.3,919.8 1514.1,920.8 1512.8,921.8 1511.6,922.8 1510.3,923.8 1509.1,924.7 1507.9,925.7 1506.6,926.7 1505.4,927.7 1504.1,928.6 1502.9,929.6 1501.6,930.6 1500.3,931.7 1499,932.7 1497.8,933.6 1496.6,934.6 1495.3,935.5 1494.1,936.5 1492.9,937.4 1491.6,938.4 1490.3,939.4 1489.1,940.4 1487.8,941.4 1486.5,942.4 1485.2,943.4 1483.9,944.4 1482.7,945.3 1481.5,946.3 1480.2,947.2 1479,948.1 1477.8,949.1 1476.5,950.1 1475.2,951 1474,952 1472.7,953 1471.4,953.9 1470.1,954.9 1468.8,955.9 1467.5,956.9 1466.1,957.9 1464.9,958.8 1463.7,959.7 1462.4,960.6 1461.2,961.6 1460,962.5 1458.7,963.4 1457.4,964.4 1456.1,965.3 1454.8,966.3 1453.5,967.2 1452.2,968.2 1450.9,969.1 1449.6,970.1 1448.2,971.1 1447,972 1445.8,972.8 1444.6,973.7 1443.3,974.6 1442.1,975.5 1440.8,976.4 1439.5,977.3 1438.3,978.2 1437,979.1 1435.7,980 1434.4,981 1433,981.9 1431.7,982.8 1430.4,983.7 1429,984.7 1427.7,985.6 1426.5,986.4 1425.2,987.3 1424,988.1 1422.8,989 1421.5,989.8 1420.2,990.6 1419,991.5 1417.7,992.4 1416.4,993.2 1415.1,994.1 1413.8,994.9 1412.5,995.8 1411.2,996.7 1409.8,997.5 1408.5,998.4 1407.1,999.3 1405.7,1000.2 1404.4,1001.1 1403,1002 1401.7,1002.7 1400.5,1003.5 1399.3,1004.3 1398,1005.1 1396.8,1005.9 1395.5,1006.7 1394.2,1007.5 1392.9,1008.3 1391.6,1009.1 1390.3,1009.9 1389,1010.7 1387.7,1011.5 1386.3,1012.3 1385,1013.1 1383.6,1013.9 1382.3,1014.7 1380.9,1015.5 1379.5,1016.3 1378.1,1017.1 1376.7,1018 1375.2,1018.8 1374,1019.5 1372.8,1020.2 1371.5,1020.9 1370.3,1021.6 1369,1022.3 1367.7,1023.1 1366.5,1023.8 1365.2,1024.5 1363.9,1025.2 1362.5,1025.9 1361.2,1026.7 1359.9,1027.4 1358.6,1028.1 1357.2,1028.8 1355.8,1029.6 1354.5,1030.3 1353.1,1031 1351.7,1031.8 1350.3,1032.5 1348.9,1033.2 1347.4,1034 1346,1034.7 1344.5,1035.4 1343.1,1036.2 1341.9,1036.8 1340.6,1037.4 1339.4,1038 1338.1,1038.7 1336.9,1039.3 1335.6,1039.9 1334.3,1040.5 1333,1041.2 1331.7,1041.8 1330.4,1042.4 1329.1,1043 1327.8,1043.7 1326.4,1044.3 1325.1,1044.9 1323.7,1045.6 1322.3,1046.2 1321,1046.8 1319.6,1047.5 1318.2,1048.1 1316.8,1048.7 1315.3,1049.4 1313.9,1050 1312.5,1050.6 1311,1051.3 1309.5,1051.9 1308,1052.6 1306.5,1053.2 1305,1053.8 1303.5,1054.5 1302.3,1055 1301.1,1055.5 1299.8,1056 1298.6,1056.5 1297.3,1057.1 1296,1057.6 1294.8,1058.1 1293.5,1058.6 1292.2,1059.1 1290.9,1059.7 1289.6,1060.2 1288.2,1060.7 1286.9,1061.2 1285.5,1061.7 1284.2,1062.3 1282.8,1062.8 1281.5,1063.3 1280.1,1063.8 1278.7,1064.3 1277.3,1064.9 1275.8,1065.4 1274.4,1065.9 1273,1066.4 1271.5,1067 1270,1067.5 1268.6,1068 1267.1,1068.5 1265.6,1069.1 1264.1,1069.6 1262.5,1070.1 1261,1070.6 1259.4,1071.2 1257.9,1071.7 1256.3,1072.2 1254.7,1072.7 1253.1,1073.3 1251.5,1073.8 1250.2,1074.2 1249,1074.6 1247.8,1075 1246.5,1075.4 1245.2,1075.8 1244,1076.2 1242.7,1076.6 1241.4,1077 1240.1,1077.4 1238.8,1077.8 1237.5,1078.2 1236.2,1078.6 1234.8,1079 1233.5,1079.4 1232.1,1079.8 1230.8,1080.1 1229.4,1080.5 1228,1080.9 1226.6,1081.3 1225.2,1081.7 1223.8,1082.1 1222.3,1082.5 1220.9,1082.9 1219.4,1083.3 1218,1083.7 1216.5,1084.1 1215,1084.5 1213.5,1084.9 1212,1085.3 1210.4,1085.7 1208.9,1086.1 1207.3,1086.5 1205.8,1086.9 1204.2,1087.3 1202.6,1087.7 1201,1088.1 1199.4,1088.5 1197.7,1088.9 1196.1,1089.3 1194.4,1089.7 1192.7,1090.1 1191,1090.5 1189.3,1090.9 1187.6,1091.3 1185.8,1091.7 1184,1092.1 1182.2,1092.5 1180.4,1092.9 1178.6,1093.3 1177.4,1093.5 1176.2,1093.8 1174.9,1094 1173.7,1094.3 1172.4,1094.6 1171.1,1094.8 1169.9,1095.1 1168.6,1095.4 1167.3,1095.6 1166,1095.9 1164.7,1096.1 1163.3,1096.4 1162,1096.7 1160.6,1096.9 1159.3,1097.2 1157.9,1097.5 1156.6,1097.7 1155.2,1098 1153.8,1098.2 1152.4,1098.5 1150.9,1098.8 1149.5,1099 1148.1,1099.3 1146.6,1099.5 1145.2,1099.8 1143.7,1100.1 1142.2,1100.3 1140.7,1100.6 1139.2,1100.8 1137.6,1101.1 1136.1,1101.4 1134.5,1101.6 1133,1101.9 1131.4,1102.1 1129.8,1102.4 1128.2,1102.6 1126.6,1102.9 1124.9,1103.2 1123.3,1103.4 1121.6,1103.7 1119.9,1103.9 1118.2,1104.2 1116.5,1104.4 1114.8,1104.7 1113,1104.9 1111.3,1105.2 1109.5,1105.4 1107.7,1105.7 1105.8,1105.9 1104,1106.2 1102.1,1106.4 1100.3,1106.7 1098.4,1106.9 1096.4,1107.2 1094.5,1107.4 1092.5,1107.7 1090.6,1107.9 1088.5,1108.2 1086.5,1108.4 1084.5,1108.7 1082.4,1108.9 1080.3,1109.2 1078.2,1109.4 1076,1109.6 1073.8,1109.9 1071.6,1110.1 1069.4,1110.4 1067.1,1110.6 1064.8,1110.8 1062.5,1111.1 1060.2,1111.3 1057.8,1111.5 1055.4,1111.8 1054.2,1111.9 1052.9,1112 1051.7,1112.1 1050.5,1112.2 1049.2,1112.4 1047.9,1112.5 1046.7,1112.6 1045.4,1112.7 1044.1,1112.8 1042.8,1112.9 1041.5,1113 1040.2,1113.1 1038.9,1113.3 1037.5,1113.4 1036.2,1113.5 1034.9,1113.6 1033.5,1113.7 1032.1,1113.8 1030.7,1113.9 1029.3,1114 1027.9,1114.2 1026.5,1114.3 1025,1114.4 1023.6,1114.5 1022.1,1114.6 1020.7,1114.7 1019.2,1114.8 1017.7,1114.9 1016.2,1115 1014.7,1115.1 1013.1,1115.2 1011.6,1115.4 1010,1115.5 1008.5,1115.6 1006.9,1115.7 1005.3,1115.8 1003.6,1115.9 1002,1116 1000.4,1116.1 998.7,1116.2 997,1116.3 995.3,1116.4 993.6,1116.5 991.9,1116.6 990.2,1116.7 988.4,1116.8 986.6,1116.9 984.8,1117 983,1117.1 981.2,1117.1 979.3,1117.2 977.4,1117.3 975.5,1117.4 973.6,1117.5 971.7,1117.6 969.7,1117.7 967.8,1117.8 965.8,1117.8 963.7,1117.9 961.7,1118 959.6,1118.1 957.5,1118.2 955.4,1118.2 953.3,1118.3 951.1,1118.4 948.9,1118.5 946.7,1118.5 944.4,1118.6 942.1,1118.7 939.8,1118.7 937.5,1118.8 935.1,1118.8 932.7,1118.9 930.3,1118.9 927.8,1119 925.3,1119 922.7,1119.1 920.2,1119.1 917.5,1119.2 914.9,1119.2 912.2,1119.2 909.4,1119.3 906.7,1119.3 903.8,1119.3 900.9,1119.3 898,1119.4 895.1,1119.4 892,1119.4 889,1119.4 885.8,1119.4 882.6,1119.4 879.4,1119.3 876.1,1119.3 872.8,1119.3 869.3,1119.3 865.8,1119.3 862.3,1119.2 858.6,1119.2 854.9,1119.1 851.1,1119 847.2,1118.8 843.2,1118.6 839.2,1118.4 835,1118.2 830.8,1118 826.4,1117.8 821.9,1117.5 817.3,1117.3 812.6,1117 807.8,1116.7 802.8,1116.4 797.7,1116 792.4,1115.7 787,1115.3 781.4,1114.9 775.6,1114.4 769.6,1114 763.4,1113.4 756.9,1112.9 750.2,1112.2 743.3,1111.5 736,1110.7 728.5,1109.9 720.7,1109 712.4,1107.9 703.8,1106.8 694.7,1105.6 685.2,1104.2 675.1,1102.6 664.3,1100.9 652.9,1098.9 640.7,1096.6 627.6,1094 613.5,1091" fill="#ff0000"/>
<ellipse cx="1722.2" cy="769.1" rx="12.6" ry="12.6" fill="#ff0000"/>
<polyline points="226,864.6 228.1,866.3 230.3,867.9 232.4,869.5 234.6,871.2 236.7,872.8 238.8,874.4 241,876.1 243.1,877.8 245.3,879.4 247.4,881.1 249.5,882.8 251.7,884.4 253.8,886.1 256,887.8 258.1,889.4 260.2,891.1 262.4,892.8 264.5,894.5 266.7,896.2 268.8,897.9 271,899.6 273.1,901.2 275.2,902.9 277.4,904.6 279.5,906.3 281.7,908 283.8,909.7 285.9,911.4 288.1,913.1 290.2,914.7 292.4,916.4 294.5,918.1 296.6,919.8 298.8,921.5 300.9,923.1 303.1,924.8 305.2,926.5 307.3,928.1 309.5,929.8 311.6,931.5 313.8,933.1 315.9,934.8 318,936.4 320.2,938.1 322.3,939.7 324.5,941.3 326.6,942.9 328.7,944.6 330.9,946.2 333,947.8 335.2,949.4 337.3,951 339.4,952.6 341.6,954.2 343.7,955.7 345.9,957.3 348,958.9 350.2,960.4 352.3,962 354.4,963.5 356.6,965 358.7,966.6 360.9,968.1 363,969.6 365.1,971.1 367.3,972.6 369.4,974.1 371.6,975.5 373.7,977 375.8,978.5 378,979.9 380.1,981.3 382.3,982.8 384.4,984.2 386.5,985.6 388.7,987 390.8,988.4 393,989.8 395.1,991.1 397.2,992.5 399.4,993.8 401.5,995.2 403.7,996.5 405.8,997.8 407.9,999.1 410.1,1000.4 412.2,1001.7 414.4,1003 416.5,1004.3 418.6,1005.5 420.8,1006.8 422.9,1008 425.1,1009.2 427.2,1010.5 429.4,1011.7 431.5,1012.9 433.6,1014.1 435.8,1015.2 437.9,1016.4 440.1,1017.5 442.2,1018.7 444.3,1019.8 446.5,1020.9 448.6,1022.1 450.8,1023.2 452.9,1024.3 455,1025.3 457.2,1026.4 459.3,1027.5 461.5,1028.5 463.6,1029.6 465.7,1030.6 467.9,1031.6 470,1032.6 472.2,1033.6 474.3,1034.6 476.4,1035.6 478.6,1036.6 480.7,1037.5 482.9,1038.5 485,1039.4 487.1,1040.4 489.3,1041.3 491.4,1042.2 493.6,1043.1 495.7,1044 497.8,1044.9 500,1045.8 502.1,1046.6 504.3,1047.5 506.4,1048.3 508.6,1049.2 510.7,1050 512.8,1050.8 515,1051.6 517.1,1052.4 519.3,1053.2 521.4,1054 523.5,1054.8 525.7,1055.6 527.8,1056.3 530,1057.1 532.1,1057.8 534.2,1058.6 536.4,1059.3 538.5,1060 540.7,1060.7 542.8,1061.4 544.9,1062.1 547.1,1062.8 549.2,1063.5 551.4,1064.1 553.5,1064.8 555.6,1065.5 557.8,1066.1 559.9,1066.7 562.1,1067.4 564.2,1068 566.3,1068.6 568.5,1069.2 570.6,1069.8 572.8,1070.4 574.9,1071 577,1071.6 579.2,1072.2 581.3,1072.7 583.5,1073.3 585.6,1073.8 587.8,1074.4 589.9,1074.9 592,1075.5 594.2,1076 596.3,1076.5 598.5,1077 600.6,1077.5 602.7,1078 604.9,1078.5 607,1079 609.2,1079.5 611.3,1080 613.4,1080.5 615.6,1080.9 617.7,1081.4 619.9,1081.8 622,1082.3 624.1,1082.7 626.3,1083.2 628.4,1083.6 630.6,1084 632.7,1084.4 634.8,1084.8 637,1085.3 639.1,1085.7 641.3,1086.1 643.4,1086.4 645.5,1086.8 647.7,1087.2 649.8,1087.6 652,1088 654.1,1088.3 656.2,1088.7 658.4,1089.1 660.5,1089.4 662.7,1089.8 664.8,1090.1 667,1090.4 669.1,1090.8 671.2,1091.1 673.4,1091.4 675.5,1091.7 677.7,1092.1 679.8,1092.4 681.9,1092.7 684.1,1093 686.2,1093.3 688.4,1093.6 690.5,1093.9 692.6,1094.2 694.8,1094.4 696.9,1094.7 699.1,1095 701.2,1095.3 703.3,1095.5 705.5,1095.8 707.6,1096 709.8,1096.3 711.9,1096.5 714,1096.8 716.2,1097 718.3,1097.3 720.5,1097.5 722.6,1097.7 724.7,1098 726.9,1098.2 729,1098.4 731.2,1098.6 733.3,1098.8 735.4,1099 737.6,1099.2 739.7,1099.4 741.9,1099.6 744,1099.8 746.1,1100 748.3,1100.2 750.4,1100.4 752.6,1100.6 754.7,1100.8 756.9,1100.9 759,1101.1 761.1,1101.3 763.3,1101.5 765.4,1101.6 767.6,1101.8 769.7,1101.9 771.8,1102.1 774,1102.2 776.1,1102.4 778.3,1102.5 780.4,1102.7 782.5,1102.8 784.7,1102.9 786.8,1103.1 789,1103.2 791.1,1103.3 793.2,1103.5 795.4,1103.6 797.5,1103.7 799.7,1103.8 801.8,1103.9 803.9,1104 806.1,1104.2 808.2,1104.3 810.4,1104.4 812.5,1104.5 814.6,1104.6 816.8,1104.6 818.9,1104.7 821.1,1104.8 823.2,1104.9 825.3,1105 827.5,1105.1 829.6,1105.2 831.8,1105.2 833.9,1105.3 836.1,1105.4 838.2,1105.4 840.3,1105.5 842.5,1105.6 844.6,1105.6 846.8,1105.7 848.9,1105.7 851,1105.8 853.2,1105.8 855.3,1105.9 857.5,1105.9 859.6,1106 861.7,1106 863.9,1106.1 866,1106.1 868.2,1106.1 870.3,1106.2 872.4,1106.2 874.6,1106.2 876.7,1106.2 878.9,1106.3 881,1106.3 883.1,1106.3 885.3,1106.3 887.4,1106.3 889.6,1106.3 891.7,1106.3 893.8,1106.3 896,1106.3 898.1,1106.3 900.3,1106.3 902.4,1106.3 904.5,1106.3 906.7,1106.3 908.8,1106.3 911,1106.3 913.1,1106.3 915.3,1106.2 917.4,1106.2 919.5,1106.2 921.7,1106.2 923.8,1106.1 926,1106.1 928.1,1106.1 930.2,1106 932.4,1106 934.5,1105.9 936.7,1105.9 938.8,1105.8 940.9,1105.8 943.1,1105.7 945.2,1105.7 947.4,1105.6 949.5,1105.6 951.6,1105.5 953.8,1105.4 955.9,1105.4 958.1,1105.3 960.2,1105.2 962.3,1105.1 964.5,1105.1 966.6,1105 968.8,1104.9 970.9,1104.8 973,1104.7 975.2,1104.6 977.3,1104.5 979.5,1104.4 981.6,1104.3 983.7,1104.2 985.9,1104.1 988,1104 990.2,1103.9 992.3,1103.8 994.5,1103.7 996.6,1103.6 998.7,1103.4 1000.9,1103.3 1003,1103.2 1005.2,1103.1 1007.3,1102.9 1009.4,1102.8 1011.6,1102.7 1013.7,1102.5 1015.9,1102.4 1018,1102.2 1020.1,1102.1 1022.3,1101.9 1024.4,1101.8 1026.6,1101.6 1028.7,1101.4 1030.8,1101.3 1033,1101.1 1035.1,1100.9 1037.3,1100.7 1039.4,1100.6 1041.5,1100.4 1043.7,1100.2 1045.8,1100 1048,1099.8 1050.1,1099.6 1052.2,1099.4 1054.4,1099.2 1056.5,1099 1058.7,1098.8 1060.8,1098.6 1062.9,1098.4 1065.1,1098.1 1067.2,1097.9 1069.4,1097.7 1071.5,1097.5 1073.7,1097.2 1075.8,1097 1077.9,1096.7 1080.1,1096.5 1082.2,1096.3 1084.4,1096 1086.5,1095.7 1088.6,1095.5 1090.8,1095.2 1092.9,1094.9 1095.1,1094.7 1097.2,1094.4 1099.3,1094.1 1101.5,1093.8 1103.6,1093.5 1105.8,1093.2 1107.9,1092.9 1110,1092.6 1112.2,1092.3 1114.3,1092 1116.5,1091.7 1118.6,1091.4 1120.7,1091.1 1122.9,1090.7 1125,1090.4 1127.2,1090 1129.3,1089.7 1131.4,1089.4 1133.6,1089 1135.7,1088.6 1137.9,1088.3 1140,1087.9 1142.1,1087.5 1144.3,1087.2 1146.4,1086.8 1148.6,1086.4 1150.7,1086 1152.9,1085.6 1155,1085.2 1157.1,1084.8 1159.3,1084.4 1161.4,1083.9 1163.6,1083.5 1165.7,1083.1 1167.8,1082.6 1170,1082.2 1172.1,1081.8 1174.3,1081.3 1176.4,1080.8 1178.5,1080.4 1180.7,1079.9 1182.8,1079.4 1185,1078.9 1187.1,1078.5 1189.2,1078 1191.4,1077.5 1193.5,1076.9 1195.7,1076.4 1197.8,1075.9 1199.9,1075.4 1202.1,1074.8 1204.2,1074.3 1206.4,1073.8 1208.5,1073.2 1210.6,1072.6 1212.8,1072.1 1214.9,1071.5 1217.1,1070.9 1219.2,1070.3 1221.3,1069.7 1223.5,1069.1 1225.6,1068.5 1227.8,1067.9 1229.9,1067.3 1232.1,1066.6 1234.2,1066 1236.3,1065.3 1238.5,1064.7 1240.6,1064 1242.8,1063.4 1244.9,1062.7 1247,1062 1249.2,1061.3 1251.3,1060.6 1253.5,1059.9 1255.6,1059.2 1257.7,1058.4 1259.9,1057.7 1262,1057 1264.2,1056.2 1266.3,1055.4 1268.4,1054.7 1270.6,1053.9 1272.7,1053.1 1274.9,1052.3 1277,1051.5 1279.1,1050.7 1281.3,1049.9 1283.4,1049 1285.6,1048.2 1287.7,1047.4 1289.8,1046.5 1292,1045.6 1294.1,1044.7 1296.3,1043.9 1298.4,1043 1300.5,1042.1 1302.7,1041.1 1304.8,1040.2 1307,1039.3 1309.1,1038.3 1311.3,1037.4 1313.4,1036.4 1315.5,1035.5 1317.7,1034.5 1319.8,1033.5 1322,1032.5 1324.1,1031.5 1326.2,1030.4 1328.4,1029.4 1330.5,1028.4 1332.7,1027.3 1334.8,1026.2 1336.9,1025.2 1339.1,1024.1 1341.2,1023 1343.4,1021.9 1345.5,1020.8 1347.6,1019.6 1349.8,1018.5 1351.9,1017.4 1354.1,1016.2 1356.2,1015 1358.3,1013.9 1360.5,1012.7 1362.6,1011.5 1364.8,1010.3 1366.9,1009 1369,1007.8 1371.2,1006.6 1373.3,1005.3 1375.5,1004.1 1377.6,1002.8 1379.7,1001.5 1381.9,1000.2 1384,998.9 1386.2,997.6 1388.3,996.3 1390.5,995 1392.6,993.6 1394.7,992.3 1396.9,990.9 1399,989.5 1401.2,988.2 1403.3,986.8 1405.4,985.4 1407.6,984 1409.7,982.5 1411.9,981.1 1414,979.7 1416.1,978.2 1418.3,976.8 1420.4,975.3 1422.6,973.8 1424.7,972.3 1426.8,970.8 1429,969.3 1431.1,967.8 1433.3,966.3 1435.4,964.8 1437.5,963.3 1439.7,961.7 1441.8,960.2 1444,958.6 1446.1,957.1 1448.2,955.5 1450.4,953.9 1452.5,952.3 1454.7,950.7 1456.8,949.1 1458.9,947.5 1461.1,945.9 1463.2,944.3 1465.4,942.7 1467.5,941.1 1469.7,939.4 1471.8,937.8 1473.9,936.2 1476.1,934.5 1478.2,932.9 1480.4,931.2 1482.5,929.5 1484.6,927.9 1486.8,926.2 1488.9,924.5 1491.1,922.9 1493.2,921.2 1495.3,919.5 1497.5,917.8 1499.6,916.2 1501.8,914.5 1503.9,912.8 1506,911.1 1508.2,909.4 1510.3,907.7 1512.5,906 1514.6,904.3 1516.7,902.7 1518.9,901 1521,899.3 1523.2,897.6 1525.3,895.9 1527.4,894.2 1529.6,892.5 1531.7,890.9 1533.9,889.2 1536,887.5 1538.1,885.8 1540.3,884.2 1542.4,882.5 1544.6,880.8 1546.7,879.2 1548.9,877.5 1551,875.8 1553.1,874.2 1555.3,872.5 1557.4,870.9 1559.6,869.3 1561.7,867.6 1563.8,866 1566,864.4 1568.1,862.8 1570.3,861.1 1572.4,859.5 1574.5,857.9 1576.7,856.3 1578.8,854.8 1581,853.2 1583.1,851.6 1585.2,850 1587.4,848.5 1589.5,846.9 1591.7,845.4 1593.8,843.9 1595.9,842.3 1598.1,840.8 1600.2,839.3 1602.4,837.8 1604.5,836.3 1606.6,834.8 1608.8,833.3 1610.9,831.9 1613.1,830.4 1615.2,829 1617.3,827.5 1619.5,826.1 1621.6,824.7 1623.8,823.2 1625.9,821.8 1628,820.4 1630.2,819.1 1632.3,817.7 1634.5,816.3 1636.6,815 1638.8,813.6 1640.9,812.3 1643,811 1645.2,809.6 1647.3,808.3 1649.5,807 1651.6,805.8 1653.7,804.5 1655.9,803.2 1658,802 1660.2,800.7 1662.3,799.5 1664.4,798.3 1666.6,797 1668.7,795.8 1670.9,794.6 1673,793.5 1675.1,792.3 1677.3,791.1 1679.4,790 1681.6,788.8 1683.7,787.7 1685.8,786.6 1688,785.5 1690.1,784.4 1692.3,783.3 1694.4,782.2 1696.5,781.1 1698.7,780.1 1700.8,779 1703,778 1705.1,776.9 1707.2,775.9 1709.4,774.9 1711.5,773.9 1713.7,772.9 1715.8,771.9 1718,771 1720.1,770 1722.2,769.1" fill="none" stroke="#ff0000" stroke-width="5.8" stroke-linejoin="round" stroke-linecap="round"/>
<circle cx="1722" cy="756.5" r="9" fill="#ff0000"/><circle cx="1722" cy="779" r="9" fill="#ff0000"/>
<g fill="#0000ff">
<polygon points="297.5,815.5 303.5,815.5 309.5,824.3 309.5,830.3 303.5,839.1 297.5,839.1 291.5,830.3 291.5,824.3"/>
<polygon points="368.7,867.7 374.7,867.7 380.7,876.5 380.7,882.5 374.7,891.3 368.7,891.3 362.7,882.5 362.7,876.5"/>
<polygon points="419.2,907.6 425.2,907.6 431.2,916.4 431.2,922.4 425.2,931.2 419.2,931.2 413.2,922.4 413.2,916.4"/>
<polygon points="458.4,938.9 464.4,938.9 470.4,947.7 470.4,953.7 464.4,962.5 458.4,962.5 452.4,953.7 452.4,947.7"/>
<polygon points="490.5,961.6 496.5,961.6 502.5,970.4 502.5,976.4 496.5,985.2 490.5,985.2 484.5,976.4 484.5,970.4"/>
<polygon points="517.6,980.1 523.6,980.1 529.6,988.9 529.6,994.9 523.6,1003.7 517.6,1003.7 511.6,994.9 511.6,988.9"/>
<polygon points="541,994.4 547,994.4 553,1003.2 553,1009.2 547,1018 541,1018 535,1009.2 535,1003.2"/>
<polygon points="561.7,1005.7 567.7,1005.7 573.7,1014.5 573.7,1020.5 567.7,1029.3 561.7,1029.3 555.7,1020.5 555.7,1014.5"/>
<polygon points="580.2,1015.7 586.2,1015.7 592.2,1024.5 592.2,1030.5 586.2,1039.3 580.2,1039.3 574.2,1030.5 574.2,1024.5"/>
<polygon points="597,1020.8 603,1020.8 609,1029.6 609,1035.6 603,1044.4 597,1044.4 591,1035.6 591,1029.6"/>
<polygon points="612.2,1027.9 618.2,1027.9 624.2,1036.7 624.2,1042.7 618.2,1051.5 612.2,1051.5 606.2,1042.7 606.2,1036.7"/>
<polygon points="626.3,1034 632.3,1034 638.3,1042.8 638.3,1048.8 632.3,1057.6 626.3,1057.6 620.3,1048.8 620.3,1042.8"/>
<polygon points="639.3,1039.1 645.3,1039.1 651.3,1047.9 651.3,1053.9 645.3,1062.7 639.3,1062.7 633.3,1053.9 633.3,1047.9"/>
<polygon points="651.4,1043.5 657.4,1043.5 663.4,1052.3 663.4,1058.3 657.4,1067.1 651.4,1067.1 645.4,1058.3 645.4,1052.3"/>
<polygon points="662.8,1047.3 668.8,1047.3 674.8,1056.1 674.8,1062.1 668.8,1070.9 662.8,1070.9 656.8,1062.1 656.8,1056.1"/>
<polygon points="673.4,1050.8 679.4,1050.8 685.4,1059.6 685.4,1065.6 679.4,1074.4 673.4,1074.4 667.4,1065.6 667.4,1059.6"/>
<polygon points="683.5,1053.8 689.5,1053.8 695.5,1062.6 695.5,1068.6 689.5,1077.4 683.5,1077.4 677.5,1068.6 677.5,1062.6"/>
<polygon points="693,1056.5 699,1056.5 705,1065.3 705,1071.3 699,1080.1 693,1080.1 687,1071.3 687,1065.3"/>
<polygon points="702,1058.9 708,1058.9 714,1067.7 714,1073.7 708,1082.5 702,1082.5 696,1073.7 696,1067.7"/>
<polygon points="710.5,1061.1 716.5,1061.1 722.5,1069.9 722.5,1075.9 716.5,1084.7 710.5,1084.7 704.5,1075.9 704.5,1069.9"/>
</g>
<polygon points="618.1,1029.1 632,1035.1 644.9,1040.1 656.9,1044.4 668.1,1048.2 678.6,1051.6 688.5,1054.5 698,1057.2 706.9,1059.6 715.4,1061.7 723.5,1063.6 731.2,1065.4 738.6,1067 745.7,1068.4 752.6,1069.7 759.2,1071 765.5,1072.2 771.6,1073.2 777.6,1074.2 783.3,1075.1 788.8,1076 794.2,1076.8 799.4,1077.5 804.4,1078.2 809.3,1078.8 814.1,1079.4 818.8,1080 823.3,1080.5 827.7,1081 832,1081.4 836.2,1081.9 840.3,1082.2 844.3,1082.6 848.3,1083 852.1,1083.3 855.9,1083.6 859.5,1083.9 863.1,1084.2 866.6,1084.4 870.1,1084.7 873.5,1084.9 876.8,1085.2 880,1085.4 883.2,1085.6 886.4,1085.7 889.5,1085.9 892.5,1086.1 895.5,1086.2 898.4,1086.4 901.3,1086.5 904.1,1086.6 906.9,1086.7 909.7,1086.8 912.4,1086.9 915,1087 917.6,1087.1 920.2,1087.2 922.8,1087.3 925.3,1087.3 927.8,1087.4 930.2,1087.5 932.6,1087.5 935,1087.5 937.3,1087.6 939.6,1087.6 941.9,1087.6 944.2,1087.7 946.4,1087.7 948.6,1087.7 950.7,1087.7 952.9,1087.7 955,1087.7 957.1,1087.7 959.1,1087.7 961.2,1087.7 963.2,1087.7 965.2,1087.7 967.2,1087.7 969.1,1087.7 971,1087.7 972.9,1087.6 974.8,1087.6 976.7,1087.6 978.5,1087.6 980.4,1087.5 982.2,1087.5 984,1087.5 985.7,1087.4 987.5,1087.4 989.2,1087.3 990.9,1087.3 992.6,1087.2 994.3,1087.2 996,1087.1 997.7,1087.1 999.3,1087 1000.9,1087 1002.5,1086.9 1004.1,1086.9 1005.7,1086.8 1007.3,1086.8 1008.8,1086.7 1010.3,1086.6 1011.9,1086.6 1013.4,1086.5 1014.9,1086.4 1016.4,1086.4 1017.8,1086.3 1019.3,1086.2 1020.7,1086.1 1022.2,1086.1 1023.6,1086 1025,1085.9 1026.4,1085.8 1027.8,1085.8 1029.2,1085.7 1030.5,1085.6 1031.9,1085.5 1033.2,1085.4 1034.6,1085.4 1035.9,1085.3 1037.2,1085.2 1038.5,1085.1 1039.8,1085 1041.1,1084.9 1042.4,1084.9 1043.7,1084.8 1044.9,1084.7 1046.2,1084.6 1047.4,1084.5 1048.6,1084.4 1049.9,1084.3 1051.1,1084.2 1052.3,1084.1 1053.5,1084.1 1055.9,1083.9 1058.2,1083.7 1060.5,1083.5 1062.8,1083.3 1065,1083.1 1067.2,1082.9 1069.4,1082.7 1071.6,1082.5 1073.7,1082.3 1075.8,1082.1 1077.9,1081.9 1080,1081.7 1082,1081.5 1084,1081.3 1086,1081.1 1088,1080.8 1090,1080.6 1091.9,1080.4 1093.8,1080.2 1095.7,1080 1097.5,1079.8 1099.4,1079.5 1101.2,1079.3 1103,1079.1 1104.8,1078.9 1106.5,1078.6 1108.3,1078.4 1110,1078.2 1111.7,1078 1113.4,1077.7 1115.1,1077.5 1116.8,1077.3 1118.4,1077 1120.1,1076.8 1121.7,1076.6 1123.3,1076.3 1124.9,1076.1 1126.4,1075.9 1128,1075.6 1129.6,1075.4 1131.1,1075.2 1132.6,1074.9 1134.1,1074.7 1135.6,1074.5 1137.1,1074.2 1138.5,1074 1140,1073.7 1141.4,1073.5 1142.9,1073.3 1144.3,1073 1145.7,1072.8 1147.1,1072.5 1148.5,1072.3 1149.9,1072 1151.2,1071.8 1152.6,1071.6 1153.9,1071.3 1155.3,1071.1 1156.6,1070.8 1157.9,1070.6 1159.2,1070.4 1160.5,1070.1 1161.8,1069.9 1163.1,1069.7 1164.4,1069.4 1165.6,1069.2 1166.9,1068.9 1168.1,1068.7 1169.3,1068.5 1170.5,1068.2 1171.7,1068 1172.9,1067.7 1174.1,1067.5 1175.9,1067.1 1177.7,1066.8 1179.4,1066.4 1181.1,1066.1 1182.8,1065.7 1184.5,1065.3 1186.2,1065 1187.8,1064.6 1189.5,1064.3 1191.1,1063.9 1192.7,1063.5 1194.3,1063.2 1195.9,1062.8 1197.5,1062.4 1199,1062.1 1200.5,1061.7 1202.1,1061.3 1203.6,1061 1205.1,1060.6 1206.6,1060.2 1208,1059.9 1209.5,1059.5 1210.9,1059.1 1212.4,1058.8 1213.8,1058.4 1215.2,1058 1216.6,1057.7 1218,1057.3 1219.4,1056.9 1220.7,1056.6 1222.1,1056.2 1223.4,1055.8 1224.8,1055.4 1226.1,1055.1 1227.4,1054.7 1228.7,1054.3 1230,1054 1231.3,1053.6 1232.6,1053.2 1233.8,1052.9 1235.1,1052.5 1236.3,1052.1 1237.6,1051.8 1238.8,1051.4 1240,1051 1241.2,1050.6 1242.4,1050.3 1243.6,1049.9 1244.8,1049.5 1246.4,1049 1247.9,1048.5 1249.5,1048.1 1251,1047.6 1252.5,1047.1 1254,1046.6 1255.5,1046.1 1257,1045.6 1258.5,1045.1 1259.9,1044.6 1261.3,1044.1 1262.8,1043.6 1264.2,1043.1 1265.6,1042.6 1267,1042.1 1268.4,1041.6 1269.7,1041.2 1271.1,1040.7 1272.4,1040.2 1273.8,1039.7 1275.1,1039.2 1276.4,1038.7 1277.7,1038.2 1279,1037.7 1280.3,1037.2 1281.6,1036.7 1282.9,1036.3 1284.1,1035.8 1285.4,1035.3 1286.6,1034.8 1287.8,1034.3 1289.1,1033.8 1290.3,1033.3 1291.5,1032.8 1292.7,1032.4 1293.9,1031.9 1295.1,1031.4 1296.5,1030.8 1298,1030.2 1299.4,1029.6 1300.9,1029 1302.3,1028.4 1303.7,1027.8 1305.1,1027.2 1306.5,1026.5 1307.8,1025.9 1309.2,1025.3 1310.5,1024.7 1311.9,1024.1 1313.2,1023.6 1314.5,1023 1315.8,1022.4 1317.1,1021.8 1318.3,1021.1 1319.6,1020.5 1320.9,1019.9 1322.2,1019.3 1323.4,1018.7 1324.7,1018.1 1325.9,1017.5 1327.1,1016.9 1328.3,1016.3 1329.6,1015.7 1330.8,1015.1 1331.9,1014.5 1333.1,1013.9 1334.5,1013.1 1335.9,1012.4 1337.3,1011.7 1338.7,1011 1340.1,1010.3 1341.4,1009.6 1342.8,1008.8 1344.1,1008.1 1345.4,1007.4 1346.8,1006.7 1348.1,1006 1349.4,1005.3 1350.6,1004.6 1351.9,1003.9 1353.2,1003.2 1354.4,1002.5 1355.7,1001.8 1356.9,1001.1 1358.2,1000.4 1359.4,999.7 1360.6,999 1361.8,998.3 1363,997.6 1364.2,996.9 1365.6,996.1 1366.9,995.3 1368.3,994.5 1369.6,993.7 1371,992.9 1372.3,992.1 1373.6,991.3 1374.9,990.6 1376.2,989.8 1377.5,989 1378.8,988.2 1380,987.4 1381.3,986.6 1382.6,985.9 1383.8,985.1 1385,984.3 1386.3,983.5 1387.5,982.8 1388.7,982 1389.9,981.2 1391.1,980.5 1392.4,979.6 1393.8,978.7 1395.1,977.9 1396.4,977 1397.7,976.2 1399,975.3 1400.3,974.5 1401.6,973.6 1402.9,972.8 1404.1,971.9 1405.4,971.1 1406.6,970.2 1407.9,969.4 1409.1,968.6 1410.3,967.7 1411.5,966.9 1412.7,966.1 1413.9,965.2 1415.1,964.4 1416.4,963.5 1417.7,962.6 1419,961.7 1420.3,960.8 1421.6,959.9 1422.9,959 1424.2,958.1 1425.4,957.2 1426.7,956.3 1427.9,955.4 1429.2,954.5 1430.4,953.6 1431.6,952.7 1432.8,951.9 1434.1,951 1435.3,950.1 1436.6,949.1 1437.9,948.2 1439.2,947.3 1440.5,946.3 1441.8,945.4 1443,944.5 1444.3,943.6 1445.5,942.7 1446.8,941.8 1448,940.8 1449.2,939.9 1450.4,939 1451.7,938.2 1452.9,937.3 1454.2,936.3 1455.5,935.3 1456.8,934.4 1458,933.4 1459.3,932.4 1460.6,931.5 1461.8,930.6 1463.1,929.6 1464.3,928.7 1465.5,927.7 1466.8,926.8 1468,925.9 1469.2,925 1470.4,924.1 1471.7,923.1 1473,922.1 1474.2,921.1 1475.5,920.2 1476.8,919.2 1478,918.2 1479.2,917.3 1480.5,916.3 1481.7,915.4 1482.9,914.4 1484.1,913.5 1485.3,912.6 1486.6,911.6 1487.9,910.6 1489.2,909.6 1490.4,908.6 1491.7,907.6 1492.9,906.7 1494.2,905.7 1495.4,904.7 1496.6,903.8 1497.8,902.8 1499,901.9 1500.3,900.9 1501.6,899.9 1502.9,898.9 1504.1,897.9 1505.4,896.9 1506.6,896 1507.9,895 1509.1,894 1510.3,893.1 1511.5,892.1 1512.7,891.2 1514,890.2 1515.3,889.2 1516.5,888.2 1517.8,887.2 1519,886.3 1520.3,885.3 1521.5,884.4 1522.7,883.4 1523.9,882.5 1525.2,881.5 1526.5,880.5 1527.7,879.5 1529,878.5 1530.2,877.5 1531.5,876.6 1532.7,875.6 1533.9,874.7 1535.1,873.7 1536.4,872.8 1537.6,871.8 1538.9,870.9 1540.1,869.9 1541.4,868.9 1542.6,868 1543.8,867 1545.1,866.1 1546.3,865.2 1547.6,864.2 1548.8,863.2 1550.1,862.3 1551.3,861.3 1552.6,860.4 1553.8,859.5 1555,858.5 1556.2,857.6 1557.5,856.7 1558.8,855.7 1560,854.8 1561.3,853.8 1562.5,852.9 1563.7,852 1564.9,851.1 1566.2,850.2 1567.4,849.2 1568.7,848.3 1569.9,847.3 1571.2,846.4 1572.4,845.5 1573.6,844.6 1574.9,843.7 1576.1,842.8 1577.4,841.9 1578.6,841 1579.9,840.1 1581.1,839.2 1582.3,838.3 1583.6,837.4 1584.8,836.5 1586.1,835.6 1587.3,834.7 1588.6,833.8 1589.8,833 1591,832.1 1592.2,831.2 1593.5,830.3 1594.8,829.5 1596,828.6 1597.2,827.7 1598.5,826.9 1599.7,826 1600.9,825.2 1602.2,824.3 1603.4,823.4 1604.7,822.6 1605.9,821.8 1607.1,820.9 1608.4,820.1 1609.7,819.2 1610.9,818.4 1612.1,817.6 1613.4,816.8 1614.6,815.9 1615.8,815.1 1617.1,814.3 1618.3,813.5 1619.6,812.7 1620.8,811.9 1622,811.1 1623.3,810.3 1624.5,809.5 1625.8,808.7 1627,807.9 1628.1,807.2 1629.4,806.4 1630.6,805.5 1631.8,804.7 1633.1,803.9 1634.3,803.2 1635.5,802.4 1636.8,801.6 1638,800.8 1639.2,800 1640.5,799.2 1641.7,798.5 1642.9,797.7 1644.2,796.9 1645.4,796.2 1646.6,795.4 1647.9,794.6 1649.1,793.9 1650.4,793.1 1651.6,792.4 1652.8,791.6 1654.1,790.9 1655.3,790.1 1656.6,789.4 1657.8,788.7 1659,788 1660.3,787.2 1661.5,786.5 1662.7,785.8 1664,785.1 1665.2,784.4 1666.4,783.6 1667.7,782.9 1668.9,782.2 1670.2,781.5 1671.4,780.8 1672.6,780.2 1673.9,779.5 1675.1,778.8 1676.3,778.1 1677.6,777.4 1678.8,776.8 1680,776.1 1681.3,775.4 1682.5,774.8 1683.7,774.1 1685,773.5 1686.2,772.8 1687.4,772.1 1688.7,771.5 1689.9,770.9 1691.1,770.2 1692.4,769.6 1693.6,769 1694.8,768.3 1696.1,767.7 1697.3,767.1 1698.5,766.4 1699.8,765.8 1701.1,765.2 1702.3,764.6 1703.6,764 1704.8,763.4 1706,762.9 1707.3,762.3 1708.5,761.7 1709.7,761.1 1711,760.6 1712.2,760 1713.5,759.4 1714.7,758.9 1715.9,758.3 1717.1,757.8 1718.4,757.2 1718.4,757.2 1726,779.6 1726,779.6 1724.8,780.1 1723.6,780.7 1722.4,781.2 1721.2,781.8 1720,782.3 1718.8,782.8 1717.6,783.4 1716.4,783.9 1715.2,784.5 1714,785.1 1712.8,785.6 1711.6,786.2 1710.4,786.8 1709.2,787.3 1708.1,787.9 1706.9,788.4 1705.8,789 1704.6,789.6 1703.4,790.2 1702.2,790.9 1701,791.5 1699.8,792.1 1698.6,792.7 1697.4,793.3 1696.2,794 1695,794.6 1693.8,795.2 1692.6,795.9 1691.4,796.5 1690.2,797.1 1689,797.8 1687.8,798.4 1686.6,799.1 1685.4,799.7 1684.2,800.4 1683,801.1 1681.9,801.7 1680.7,802.4 1679.4,803.1 1678.2,803.8 1677,804.4 1675.8,805.1 1674.6,805.8 1673.4,806.5 1672.2,807.2 1671,807.9 1669.8,808.6 1668.6,809.3 1667.4,810 1666.2,810.7 1665,811.4 1663.8,812.1 1662.6,812.9 1661.4,813.6 1660.2,814.3 1659,815 1657.8,815.8 1656.6,816.5 1655.4,817.3 1654.2,818 1653,818.8 1651.8,819.5 1650.6,820.3 1649.4,821 1648.2,821.8 1647,822.5 1645.8,823.3 1644.6,824.1 1643.4,824.8 1642.2,825.6 1641,826.4 1639.8,827.2 1638.5,828 1637.3,828.8 1636,829.6 1634.8,830.4 1633.6,831.2 1632.4,832 1631.2,832.7 1630,833.5 1628.8,834.3 1627.6,835.1 1626.3,835.9 1625.1,836.7 1623.9,837.5 1622.7,838.3 1621.5,839.1 1620.3,839.9 1619.1,840.8 1617.8,841.6 1616.6,842.4 1615.4,843.2 1614.2,844 1613,844.9 1611.8,845.7 1610.5,846.6 1609.4,847.4 1608.2,848.2 1606.9,849.1 1605.7,849.9 1604.5,850.8 1603.3,851.7 1602.1,852.5 1600.9,853.4 1599.7,854.2 1598.4,855.1 1597.2,855.9 1596,856.8 1594.7,857.7 1593.5,858.6 1592.3,859.5 1591.1,860.3 1589.9,861.2 1588.7,862.1 1587.4,863 1586.2,863.9 1585,864.8 1583.8,865.7 1582.6,866.6 1581.3,867.5 1580.1,868.4 1578.9,869.3 1577.6,870.3 1576.4,871.1 1575.2,872 1574,873 1572.8,873.9 1571.6,874.8 1570.3,875.7 1569.1,876.7 1567.8,877.6 1566.6,878.5 1565.4,879.5 1564.2,880.4 1563,881.3 1561.7,882.2 1560.5,883.2 1559.2,884.2 1558,885.1 1556.8,886 1555.6,887 1554.3,887.9 1553.1,888.8 1551.9,889.8 1550.6,890.7 1549.4,891.7 1548.1,892.7 1546.9,893.6 1545.7,894.5 1544.5,895.5 1543.3,896.4 1542,897.4 1540.8,898.4 1539.6,899.3 1538.3,900.3 1537,901.3 1535.8,902.3 1534.6,903.2 1533.3,904.2 1532.1,905.1 1530.9,906.1 1529.6,907.1 1528.4,908 1527.1,909 1525.9,910 1524.6,911 1523.4,911.9 1522.2,912.9 1521,913.8 1519.7,914.8 1518.5,915.8 1517.3,916.7 1516,917.7 1514.7,918.7 1513.5,919.7 1512.2,920.7 1510.9,921.7 1509.7,922.7 1508.5,923.6 1507.2,924.6 1506,925.5 1504.8,926.5 1503.5,927.5 1502.3,928.4 1501,929.4 1499.7,930.4 1498.4,931.4 1497.1,932.4 1495.9,933.4 1494.7,934.3 1493.5,935.3 1492.2,936.2 1491,937.2 1489.7,938.1 1488.5,939.1 1487.2,940.1 1485.9,941.1 1484.6,942 1483.3,943 1482,944 1480.8,945 1479.6,945.9 1478.4,946.8 1477.1,947.8 1475.9,948.7 1474.6,949.6 1473.4,950.6 1472.1,951.5 1470.8,952.5 1469.5,953.5 1468.2,954.4 1466.9,955.4 1465.6,956.4 1464.3,957.4 1463.1,958.3 1461.8,959.2 1460.6,960.1 1459.4,961 1458.1,961.9 1456.9,962.9 1455.6,963.8 1454.3,964.7 1453,965.7 1451.7,966.6 1450.4,967.6 1449.1,968.5 1447.8,969.5 1446.4,970.4 1445.2,971.3 1444.1,972.1 1442.8,973 1441.6,973.9 1440.3,974.8 1439.1,975.7 1437.8,976.6 1436.5,977.5 1435.3,978.4 1434,979.4 1432.7,980.3 1431.3,981.2 1430,982.1 1428.7,983.1 1427.3,984 1426,984.9 1424.8,985.8 1423.5,986.6 1422.3,987.5 1421.1,988.3 1419.8,989.2 1418.6,990 1417.3,990.9 1416,991.7 1414.7,992.6 1413.5,993.5 1412.1,994.3 1410.8,995.2 1409.5,996.1 1408.2,997 1406.8,997.9 1405.5,998.7 1404.1,999.6 1402.7,1000.5 1401.4,1001.4 1400.1,1002.2 1398.9,1003 1397.7,1003.8 1396.4,1004.6 1395.2,1005.3 1393.9,1006.1 1392.6,1006.9 1391.3,1007.7 1390,1008.5 1388.7,1009.3 1387.4,1010.1 1386.1,1011 1384.8,1011.8 1383.4,1012.6 1382.1,1013.4 1380.7,1014.2 1379.3,1015 1377.9,1015.8 1376.5,1016.7 1375.1,1017.5 1373.7,1018.3 1372.5,1019 1371.3,1019.7 1370,1020.5 1368.8,1021.2 1367.5,1021.9 1366.2,1022.6 1365,1023.3 1363.7,1024 1362.4,1024.8 1361.1,1025.5 1359.7,1026.2 1358.4,1026.9 1357.1,1027.7 1355.7,1028.4 1354.4,1029.1 1353,1029.9 1351.6,1030.6 1350.2,1031.3 1348.8,1032.1 1347.4,1032.8 1346,1033.6 1344.6,1034.3 1343.1,1035 1341.7,1035.8 1340.5,1036.4 1339.2,1037 1338,1037.7 1336.7,1038.3 1335.5,1038.9 1334.2,1039.5 1332.9,1040.2 1331.7,1040.8 1330.4,1041.4 1329.1,1042 1327.7,1042.7 1326.4,1043.3 1325.1,1043.9 1323.7,1044.6 1322.4,1045.2 1321,1045.9 1319.6,1046.5 1318.2,1047.1 1316.8,1047.7 1315.4,1048.3 1314,1049 1312.5,1049.6 1311.1,1050.2 1309.6,1050.8 1308.2,1051.5 1306.7,1052.1 1305.2,1052.7 1303.7,1053.3 1302.2,1054 1301,1054.5 1299.7,1055 1298.5,1055.5 1297.3,1056 1296,1056.5 1294.7,1057 1293.5,1057.5 1292.2,1058 1290.9,1058.5 1289.6,1059 1288.3,1059.5 1287,1060 1285.6,1060.5 1284.3,1061 1282.9,1061.5 1281.6,1062 1280.2,1062.5 1278.8,1063 1277.4,1063.5 1276,1064 1274.6,1064.6 1273.2,1065.1 1271.8,1065.6 1270.3,1066.1 1268.9,1066.6 1267.4,1067.1 1265.9,1067.6 1264.4,1068.1 1262.9,1068.6 1261.4,1069.1 1259.8,1069.6 1258.3,1070.1 1256.7,1070.6 1255.2,1071.2 1253.6,1071.7 1252,1072.2 1250.4,1072.7 1249.1,1073.1 1247.9,1073.4 1246.7,1073.8 1245.4,1074.2 1244.2,1074.6 1242.9,1075 1241.6,1075.3 1240.3,1075.7 1239,1076.1 1237.7,1076.5 1236.4,1076.9 1235.1,1077.2 1233.8,1077.6 1232.4,1078 1231.1,1078.4 1229.7,1078.8 1228.4,1079.1 1227,1079.5 1225.6,1079.9 1224.2,1080.3 1222.8,1080.7 1221.3,1081 1219.9,1081.4 1218.4,1081.8 1217,1082.2 1215.5,1082.6 1214,1082.9 1212.5,1083.3 1211,1083.7 1209.5,1084.1 1208,1084.4 1206.4,1084.8 1204.8,1085.2 1203.3,1085.6 1201.7,1085.9 1200.1,1086.3 1198.5,1086.7 1196.8,1087.1 1195.2,1087.4 1193.5,1087.8 1191.8,1088.2 1190.1,1088.6 1188.4,1088.9 1186.7,1089.3 1184.9,1089.7 1183.2,1090 1181.4,1090.4 1179.6,1090.8 1177.8,1091.1 1176.6,1091.4 1175.3,1091.6 1174.1,1091.9 1172.8,1092.1 1171.6,1092.4 1170.3,1092.6 1169,1092.9 1167.8,1093.1 1166.5,1093.3 1165.2,1093.6 1163.9,1093.8 1162.5,1094.1 1161.2,1094.3 1159.9,1094.5 1158.5,1094.8 1157.2,1095 1155.9,1095.3 1154.5,1095.5 1153.1,1095.8 1151.7,1096 1150.3,1096.3 1148.8,1096.5 1147.4,1096.8 1145.9,1097 1144.5,1097.2 1143,1097.5 1141.5,1097.7 1140,1098 1138.5,1098.2 1137,1098.5 1135.5,1098.7 1133.9,1098.9 1132.3,1099.2 1130.8,1099.4 1129.2,1099.7 1127.6,1099.9 1125.9,1100.1 1124.3,1100.4 1122.7,1100.6 1121,1100.9 1119.3,1101.1 1117.6,1101.3 1115.9,1101.6 1114.2,1101.8 1112.4,1102 1110.7,1102.3 1108.9,1102.5 1107.1,1102.7 1105.3,1102.9 1103.4,1103.2 1101.6,1103.4 1099.7,1103.6 1097.8,1103.8 1095.9,1104.1 1093.9,1104.3 1092,1104.5 1090,1104.7 1088,1104.9 1086,1105.2 1083.9,1105.4 1081.9,1105.6 1079.8,1105.8 1077.6,1106 1075.5,1106.2 1073.3,1106.4 1071.1,1106.6 1068.9,1106.8 1066.6,1107 1064.3,1107.2 1062,1107.4 1059.7,1107.6 1057.3,1107.8 1054.9,1108 1053.7,1108.1 1052.5,1108.2 1051.2,1108.3 1050,1108.4 1048.7,1108.5 1047.5,1108.5 1046.2,1108.6 1044.9,1108.7 1043.6,1108.8 1042.3,1108.9 1041,1109 1039.7,1109.1 1038.4,1109.2 1037.1,1109.2 1035.7,1109.3 1034.4,1109.4 1033,1109.5 1031.6,1109.6 1030.2,1109.7 1028.8,1109.7 1027.4,1109.8 1026,1109.9 1024.6,1110 1023.1,1110 1021.7,1110.1 1020.2,1110.2 1018.7,1110.3 1017.2,1110.3 1015.7,1110.4 1014.2,1110.5 1012.7,1110.5 1011.1,1110.6 1009.6,1110.7 1008,1110.7 1006.4,1110.8 1004.8,1110.9 1003.2,1110.9 1001.5,1111 999.9,1111 998.2,1111.1 996.6,1111.1 994.9,1111.2 993.2,1111.2 991.4,1111.3 989.7,1111.3 987.9,1111.4 986.2,1111.4 984.4,1111.5 982.5,1111.5 980.7,1111.5 978.9,1111.6 977,1111.6 975.1,1111.6 973.2,1111.6 971.2,1111.7 969.3,1111.7 967.3,1111.7 965.3,1111.7 963.3,1111.7 961.2,1111.7 959.2,1111.7 957.1,1111.7 955,1111.7 952.8,1111.7 950.6,1111.7 948.4,1111.7 946.2,1111.7 944,1111.7 941.7,1111.6 939.4,1111.6 937,1111.6 934.7,1111.5 932.2,1111.5 929.8,1111.4 927.3,1111.4 924.8,1111.3 922.3,1111.3 919.7,1111.2 917.1,1111.1 914.4,1111 911.7,1110.9 909,1110.8 906.2,1110.7 903.3,1110.6 900.5,1110.5 897.5,1110.3 894.6,1110.2 891.5,1110.1 888.5,1109.9 885.3,1109.7 882.1,1109.5 878.9,1109.3 875.6,1109.1 872.2,1108.9 868.8,1108.6 865.3,1108.4 861.7,1108.1 858,1107.8 854.3,1107.5 850.5,1107.2 846.6,1106.8 842.6,1106.4 838.6,1106 834.4,1105.5 830.1,1105.1 825.8,1104.6 821.3,1104 816.7,1103.5 812,1102.8 807.1,1102.2 802.1,1101.5 797,1100.8 791.7,1100 786.3,1099.1 780.7,1098.2 774.9,1097.2 768.9,1096.2 762.6,1095 756.2,1093.8 749.6,1092.5 742.6,1091.1 735.4,1089.6 727.9,1087.9 720,1086.1 711.7,1084.1 703.1,1081.8 694,1079.4 684.4,1076.6 674.2,1073.5 663.5,1070.1 652,1066.1 639.8,1061.7 626.6,1056.5 612.4,1050.3" fill="#0000ff"/>
<ellipse cx="1722.2" cy="768.4" rx="10.5" ry="12" fill="#0000ff"/>
<polyline points="226,778.1 228.1,779.2 230.3,780.2 232.4,781.3 234.6,782.4 236.7,783.5 238.8,784.5 241,785.6 243.1,786.8 245.3,787.9 247.4,789 249.5,790.2 251.7,791.3 253.8,792.5 256,793.6 258.1,794.8 260.2,796 262.4,797.2 264.5,798.4 266.7,799.7 268.8,800.9 271,802.2 273.1,803.4 275.2,804.7 277.4,806 279.5,807.2 281.7,808.5 283.8,809.8 285.9,811.2 288.1,812.5 290.2,813.8 292.4,815.2 294.5,816.5 296.6,817.9 298.8,819.3 300.9,820.7 303.1,822 305.2,823.5 307.3,824.9 309.5,826.3 311.6,827.7 313.8,829.2 315.9,830.6 318,832.1 320.2,833.5 322.3,835 324.5,836.5 326.6,838 328.7,839.5 330.9,841 333,842.5 335.2,844.1 337.3,845.6 339.4,847.1 341.6,848.7 343.7,850.2 345.9,851.8 348,853.4 350.2,855 352.3,856.5 354.4,858.1 356.6,859.7 358.7,861.3 360.9,863 363,864.6 365.1,866.2 367.3,867.8 369.4,869.4 371.6,871.1 373.7,872.7 375.8,874.4 378,876 380.1,877.7 382.3,879.3 384.4,881 386.5,882.7 388.7,884.3 390.8,886 393,887.7 395.1,889.3 397.2,891 399.4,892.7 401.5,894.4 403.7,896.1 405.8,897.8 407.9,899.4 410.1,901.1 412.2,902.8 414.4,904.5 416.5,906.2 418.6,907.9 420.8,909.5 422.9,911.2 425.1,912.9 427.2,914.6 429.4,916.3 431.5,918 433.6,919.6 435.8,921.3 437.9,923 440.1,924.6 442.2,926.3 444.3,928 446.5,929.6 448.6,931.3 450.8,932.9 452.9,934.6 455,936.2 457.2,937.8 459.3,939.5 461.5,941.1 463.6,942.7 465.7,944.3 467.9,945.9 470,947.5 472.2,949.1 474.3,950.7 476.4,952.3 478.6,953.9 480.7,955.5 482.9,957 485,958.6 487.1,960.1 489.3,961.7 491.4,963.2 493.6,964.7 495.7,966.3 497.8,967.8 500,969.3 502.1,970.8 504.3,972.2 506.4,973.7 508.6,975.2 510.7,976.6 512.8,978.1 515,979.5 517.1,981 519.3,982.4 521.4,983.8 523.5,985.2 525.7,986.6 527.8,988 530,989.3 532.1,990.7 534.2,992 536.4,993.4 538.5,994.7 540.7,996 542.8,997.4 544.9,998.7 547.1,999.9 549.2,1001.2 551.4,1002.5 553.5,1003.8 555.6,1005 557.8,1006.2 559.9,1007.5 562.1,1008.7 564.2,1009.9 566.3,1011.1 568.5,1012.3 570.6,1013.5 572.8,1014.6 574.9,1015.8 577,1016.9 579.2,1018.1 581.3,1019.2 583.5,1020.3 585.6,1021.4 587.8,1022.5 589.9,1023.6 592,1024.7 594.2,1025.7 596.3,1026.8 598.5,1027.8 600.6,1028.8 602.7,1029.9 604.9,1030.9 607,1031.9 609.2,1032.9 611.3,1033.8 613.4,1034.8 615.6,1035.8 617.7,1036.7 619.9,1037.7 622,1038.6 624.1,1039.5 626.3,1040.4 628.4,1041.3 630.6,1042.2 632.7,1043.1 634.8,1044 637,1044.8 639.1,1045.7 641.3,1046.5 643.4,1047.4 645.5,1048.2 647.7,1049 649.8,1049.8 652,1050.6 654.1,1051.4 656.2,1052.2 658.4,1052.9 660.5,1053.7 662.7,1054.5 664.8,1055.2 667,1055.9 669.1,1056.7 671.2,1057.4 673.4,1058.1 675.5,1058.8 677.7,1059.5 679.8,1060.2 681.9,1060.9 684.1,1061.5 686.2,1062.2 688.4,1062.8 690.5,1063.5 692.6,1064.1 694.8,1064.7 696.9,1065.4 699.1,1066 701.2,1066.6 703.3,1067.2 705.5,1067.8 707.6,1068.4 709.8,1068.9 711.9,1069.5 714,1070.1 716.2,1070.6 718.3,1071.2 720.5,1071.7 722.6,1072.2 724.7,1072.8 726.9,1073.3 729,1073.8 731.2,1074.3 733.3,1074.8 735.4,1075.3 737.6,1075.8 739.7,1076.3 741.9,1076.7 744,1077.2 746.1,1077.7 748.3,1078.1 750.4,1078.6 752.6,1079 754.7,1079.4 756.9,1079.9 759,1080.3 761.1,1080.7 763.3,1081.1 765.4,1081.5 767.6,1081.9 769.7,1082.3 771.8,1082.7 774,1083.1 776.1,1083.5 778.3,1083.8 780.4,1084.2 782.5,1084.5 784.7,1084.9 786.8,1085.3 789,1085.6 791.1,1085.9 793.2,1086.3 795.4,1086.6 797.5,1086.9 799.7,1087.2 801.8,1087.5 803.9,1087.8 806.1,1088.1 808.2,1088.4 810.4,1088.7 812.5,1089 814.6,1089.3 816.8,1089.6 818.9,1089.9 821.1,1090.1 823.2,1090.4 825.3,1090.6 827.5,1090.9 829.6,1091.1 831.8,1091.4 833.9,1091.6 836.1,1091.9 838.2,1092.1 840.3,1092.3 842.5,1092.5 844.6,1092.8 846.8,1093 848.9,1093.2 851,1093.4 853.2,1093.6 855.3,1093.8 857.5,1094 859.6,1094.1 861.7,1094.3 863.9,1094.5 866,1094.7 868.2,1094.9 870.3,1095 872.4,1095.2 874.6,1095.3 876.7,1095.5 878.9,1095.6 881,1095.8 883.1,1095.9 885.3,1096.1 887.4,1096.2 889.6,1096.3 891.7,1096.5 893.8,1096.6 896,1096.7 898.1,1096.8 900.3,1096.9 902.4,1097 904.5,1097.1 906.7,1097.2 908.8,1097.3 911,1097.4 913.1,1097.5 915.3,1097.6 917.4,1097.7 919.5,1097.8 921.7,1097.8 923.8,1097.9 926,1098 928.1,1098 930.2,1098.1 932.4,1098.1 934.5,1098.2 936.7,1098.2 938.8,1098.3 940.9,1098.3 943.1,1098.4 945.2,1098.4 947.4,1098.4 949.5,1098.5 951.6,1098.5 953.8,1098.5 955.9,1098.5 958.1,1098.5 960.2,1098.5 962.3,1098.5 964.5,1098.5 966.6,1098.5 968.8,1098.5 970.9,1098.5 973,1098.5 975.2,1098.5 977.3,1098.5 979.5,1098.5 981.6,1098.4 983.7,1098.4 985.9,1098.4 988,1098.3 990.2,1098.3 992.3,1098.2 994.5,1098.2 996.6,1098.1 998.7,1098.1 1000.9,1098 1003,1098 1005.2,1097.9 1007.3,1097.8 1009.4,1097.7 1011.6,1097.7 1013.7,1097.6 1015.9,1097.5 1018,1097.4 1020.1,1097.3 1022.3,1097.2 1024.4,1097.1 1026.6,1097 1028.7,1096.9 1030.8,1096.8 1033,1096.7 1035.1,1096.6 1037.3,1096.4 1039.4,1096.3 1041.5,1096.2 1043.7,1096 1045.8,1095.9 1048,1095.8 1050.1,1095.6 1052.2,1095.5 1054.4,1095.3 1056.5,1095.2 1058.7,1095 1060.8,1094.8 1062.9,1094.7 1065.1,1094.5 1067.2,1094.3 1069.4,1094.1 1071.5,1093.9 1073.7,1093.7 1075.8,1093.5 1077.9,1093.3 1080.1,1093.1 1082.2,1092.9 1084.4,1092.7 1086.5,1092.5 1088.6,1092.3 1090.8,1092.1 1092.9,1091.8 1095.1,1091.6 1097.2,1091.3 1099.3,1091.1 1101.5,1090.8 1103.6,1090.6 1105.8,1090.3 1107.9,1090.1 1110,1089.8 1112.2,1089.5 1114.3,1089.3 1116.5,1089 1118.6,1088.7 1120.7,1088.4 1122.9,1088.1 1125,1087.8 1127.2,1087.5 1129.3,1087.2 1131.4,1086.9 1133.6,1086.5 1135.7,1086.2 1137.9,1085.9 1140,1085.5 1142.1,1085.2 1144.3,1084.8 1146.4,1084.5 1148.6,1084.1 1150.7,1083.8 1152.9,1083.4 1155,1083 1157.1,1082.6 1159.3,1082.2 1161.4,1081.8 1163.6,1081.5 1165.7,1081 1167.8,1080.6 1170,1080.2 1172.1,1079.8 1174.3,1079.4 1176.4,1078.9 1178.5,1078.5 1180.7,1078 1182.8,1077.6 1185,1077.1 1187.1,1076.7 1189.2,1076.2 1191.4,1075.7 1193.5,1075.2 1195.7,1074.7 1197.8,1074.2 1199.9,1073.7 1202.1,1073.2 1204.2,1072.7 1206.4,1072.2 1208.5,1071.6 1210.6,1071.1 1212.8,1070.5 1214.9,1070 1217.1,1069.4 1219.2,1068.8 1221.3,1068.3 1223.5,1067.7 1225.6,1067.1 1227.8,1066.5 1229.9,1065.9 1232.1,1065.3 1234.2,1064.6 1236.3,1064 1238.5,1063.4 1240.6,1062.7 1242.8,1062.1 1244.9,1061.4 1247,1060.7 1249.2,1060.1 1251.3,1059.4 1253.5,1058.7 1255.6,1058 1257.7,1057.3 1259.9,1056.5 1262,1055.8 1264.2,1055.1 1266.3,1054.3 1268.4,1053.6 1270.6,1052.8 1272.7,1052 1274.9,1051.3 1277,1050.5 1279.1,1049.7 1281.3,1048.9 1283.4,1048 1285.6,1047.2 1287.7,1046.4 1289.8,1045.5 1292,1044.7 1294.1,1043.8 1296.3,1042.9 1298.4,1042.1 1300.5,1041.2 1302.7,1040.3 1304.8,1039.4 1307,1038.4 1309.1,1037.5 1311.3,1036.6 1313.4,1035.6 1315.5,1034.6 1317.7,1033.7 1319.8,1032.7 1322,1031.7 1324.1,1030.7 1326.2,1029.7 1328.4,1028.7 1330.5,1027.6 1332.7,1026.6 1334.8,1025.5 1336.9,1024.5 1339.1,1023.4 1341.2,1022.3 1343.4,1021.2 1345.5,1020.1 1347.6,1019 1349.8,1017.9 1351.9,1016.7 1354.1,1015.6 1356.2,1014.4 1358.3,1013.3 1360.5,1012.1 1362.6,1010.9 1364.8,1009.7 1366.9,1008.5 1369,1007.3 1371.2,1006 1373.3,1004.8 1375.5,1003.5 1377.6,1002.3 1379.7,1001 1381.9,999.7 1384,998.4 1386.2,997.1 1388.3,995.8 1390.5,994.5 1392.6,993.2 1394.7,991.8 1396.9,990.5 1399,989.1 1401.2,987.7 1403.3,986.3 1405.4,985 1407.6,983.5 1409.7,982.1 1411.9,980.7 1414,979.3 1416.1,977.8 1418.3,976.4 1420.4,974.9 1422.6,973.5 1424.7,972 1426.8,970.5 1429,969 1431.1,967.5 1433.3,966 1435.4,964.5 1437.5,963 1439.7,961.4 1441.8,959.9 1444,958.3 1446.1,956.8 1448.2,955.2 1450.4,953.6 1452.5,952.1 1454.7,950.5 1456.8,948.9 1458.9,947.3 1461.1,945.7 1463.2,944.1 1465.4,942.4 1467.5,940.8 1469.7,939.2 1471.8,937.6 1473.9,935.9 1476.1,934.3 1478.2,932.6 1480.4,931 1482.5,929.3 1484.6,927.7 1486.8,926 1488.9,924.4 1491.1,922.7 1493.2,921 1495.3,919.3 1497.5,917.7 1499.6,916 1501.8,914.3 1503.9,912.6 1506,910.9 1508.2,909.3 1510.3,907.6 1512.5,905.9 1514.6,904.2 1516.7,902.5 1518.9,900.8 1521,899.2 1523.2,897.5 1525.3,895.8 1527.4,894.1 1529.6,892.4 1531.7,890.7 1533.9,889.1 1536,887.4 1538.1,885.7 1540.3,884 1542.4,882.4 1544.6,880.7 1546.7,879.1 1548.9,877.4 1551,875.7 1553.1,874.1 1555.3,872.4 1557.4,870.8 1559.6,869.2 1561.7,867.5 1563.8,865.9 1566,864.3 1568.1,862.7 1570.3,861.1 1572.4,859.5 1574.5,857.9 1576.7,856.3 1578.8,854.7 1581,853.1 1583.1,851.5 1585.2,850 1587.4,848.4 1589.5,846.9 1591.7,845.3 1593.8,843.8 1595.9,842.3 1598.1,840.8 1600.2,839.3 1602.4,837.7 1604.5,836.3 1606.6,834.8 1608.8,833.3 1610.9,831.8 1613.1,830.4 1615.2,828.9 1617.3,827.5 1619.5,826 1621.6,824.6 1623.8,823.2 1625.9,821.8 1628,820.4 1630.2,819 1632.3,817.7 1634.5,816.3 1636.6,814.9 1638.8,813.6 1640.9,812.3 1643,810.9 1645.2,809.6 1647.3,808.3 1649.5,807 1651.6,805.7 1653.7,804.5 1655.9,803.2 1658,801.9 1660.2,800.7 1662.3,799.5 1664.4,798.2 1666.6,797 1668.7,795.8 1670.9,794.6 1673,793.4 1675.1,792.3 1677.3,791.1 1679.4,790 1681.6,788.8 1683.7,787.7 1685.8,786.6 1688,785.5 1690.1,784.4 1692.3,783.3 1694.4,782.2 1696.5,781.1 1698.7,780.1 1700.8,779 1703,778 1705.1,776.9 1707.2,775.9 1709.4,774.9 1711.5,773.9 1713.7,772.9 1715.8,771.9 1718,771 1720.1,770 1722.2,769" fill="none" stroke="#0000ff" stroke-width="6.5" stroke-linejoin="round" stroke-linecap="round"/>
<text transform="matrix(0.9895 0 0 1.025 139.4105 71.475)" font-size="60">40</text>
<text transform="matrix(1.0182 0 0 1.025 137.7455 193.075)" font-size="60">20</text>
<text transform="matrix(0.9885 0 0 1.025 168.9231 314.675)" font-size="60">0</text>
<text transform="matrix(1.0053 0 0 1.025 118.3895 436.275)" font-size="60">-20</text>
<text transform="matrix(1 0 0 1.025 118.8 557.875)" font-size="60">-40</text>
<text transform="matrix(0.9808 0 0 1.025 168.9385 707.575)" font-size="60">0</text>
<text transform="matrix(0.9763 0 0 1.025 119.1474 925.69)" font-size="60">-45</text>
<text transform="matrix(1.0026 0 0 1.025 118.3947 1143.805)" font-size="60">-90</text>
<text transform="matrix(0.6364 0 0 1.0154 189.3182 632.6)" font-size="60">1</text>
<text transform="matrix(1.0192 0 0 1.0675 215.5615 634.4325)" font-size="60">0</text>
<text transform="matrix(0.8667 0 0 1.0345 246.9333 604)" font-size="44">1</text>
<text transform="matrix(0.6364 0 0 1.0154 593.8182 632.6)" font-size="60">1</text>
<text transform="matrix(1.0192 0 0 1.0675 620.0615 634.4325)" font-size="60">0</text>
<text transform="matrix(1.0444 0 0 1.0345 648.9111 604)" font-size="44">2</text>
<text transform="matrix(0.6364 0 0 1.0154 998.3182 632.6)" font-size="60">1</text>
<text transform="matrix(1.0192 0 0 1.0675 1024.5615 634.4325)" font-size="60">0</text>
<text transform="matrix(0.8944 0 0 1.0345 1054.8111 604)" font-size="44">3</text>
<text transform="matrix(0.6364 0 0 1.0154 1402.8182 632.6)" font-size="60">1</text>
<text transform="matrix(1.0192 0 0 1.0675 1429.0615 634.4325)" font-size="60">0</text>
<text transform="matrix(0.925 0 0 1.0345 1458.575 604)" font-size="44">4</text>
<text transform="matrix(0.6364 0 0 1.0154 189.3182 1268.1)" font-size="60">1</text>
<text transform="matrix(1.0192 0 0 1.0675 215.5615 1269.9325)" font-size="60">0</text>
<text transform="matrix(0.8667 0 0 1.0345 246.9333 1239.5)" font-size="44">1</text>
<text transform="matrix(0.6364 0 0 1.0154 593.8182 1268.1)" font-size="60">1</text>
<text transform="matrix(1.0192 0 0 1.0675 620.0615 1269.9325)" font-size="60">0</text>
<text transform="matrix(1.0444 0 0 1.0345 648.9111 1239.5)" font-size="44">2</text>
<text transform="matrix(0.6364 0 0 1.0154 998.3182 1268.1)" font-size="60">1</text>
<text transform="matrix(1.0192 0 0 1.0675 1024.5615 1269.9325)" font-size="60">0</text>
<text transform="matrix(0.8944 0 0 1.0345 1054.8111 1239.5)" font-size="44">3</text>
<text transform="matrix(0.6364 0 0 1.0154 1402.8182 1268.1)" font-size="60">1</text>
<text transform="matrix(1.0192 0 0 1.0675 1429.0615 1269.9325)" font-size="60">0</text>
<text transform="matrix(0.925 0 0 1.0345 1458.575 1239.5)" font-size="44">4</text>
<text transform="matrix(1.0102 0 0 0.9963 782.9797 1344.7481)" font-size="60">Frequency (Hz)</text>
<text transform="matrix(0 -1.0028 0.9927 0 83.5945 510.2056)" font-size="60">Magnitude (dB&#937;)</text>
<text transform="matrix(0 -1.0024 1.0111 0 83.3556 1077.6048)" font-size="60">Phase (Deg)</text>
<text transform="matrix(1.0186 0 0 1.01 1407.2 126.99)" font-size="60" style="fill:#ff0000;stroke:none">V</text>
<text transform="matrix(0.9889 0 0 1.0125 1445.2111 144.5)" font-size="36" style="fill:#ff0000;stroke:none">in</text>
<text transform="matrix(1.1964 0 0 0.9867 1491.2107 131.64)" font-size="60" style="fill:#ff0000;stroke:none">=</text>
<text transform="matrix(1.0119 0 0 1.0225 1541.6762 127.5775)" font-size="60" style="fill:#ff0000;stroke:none">20V</text>
<text transform="matrix(0.9814 0 0 1.01 1409.6 227.99)" font-size="60" style="fill:#0000ff;stroke:none">V</text>
<text transform="matrix(0.9333 0 0 1.0125 1447.8667 245.5)" font-size="36" style="fill:#0000ff;stroke:none">in</text>
<text transform="matrix(1.2714 0 0 0.9733 1491.5857 232.48)" font-size="60" style="fill:#0000ff;stroke:none">=</text>
<text transform="matrix(1.006 0 0 1.0225 1541.982 228.5775)" font-size="60" style="fill:#0000ff;stroke:none">50V</text>
</svg></body></html>
